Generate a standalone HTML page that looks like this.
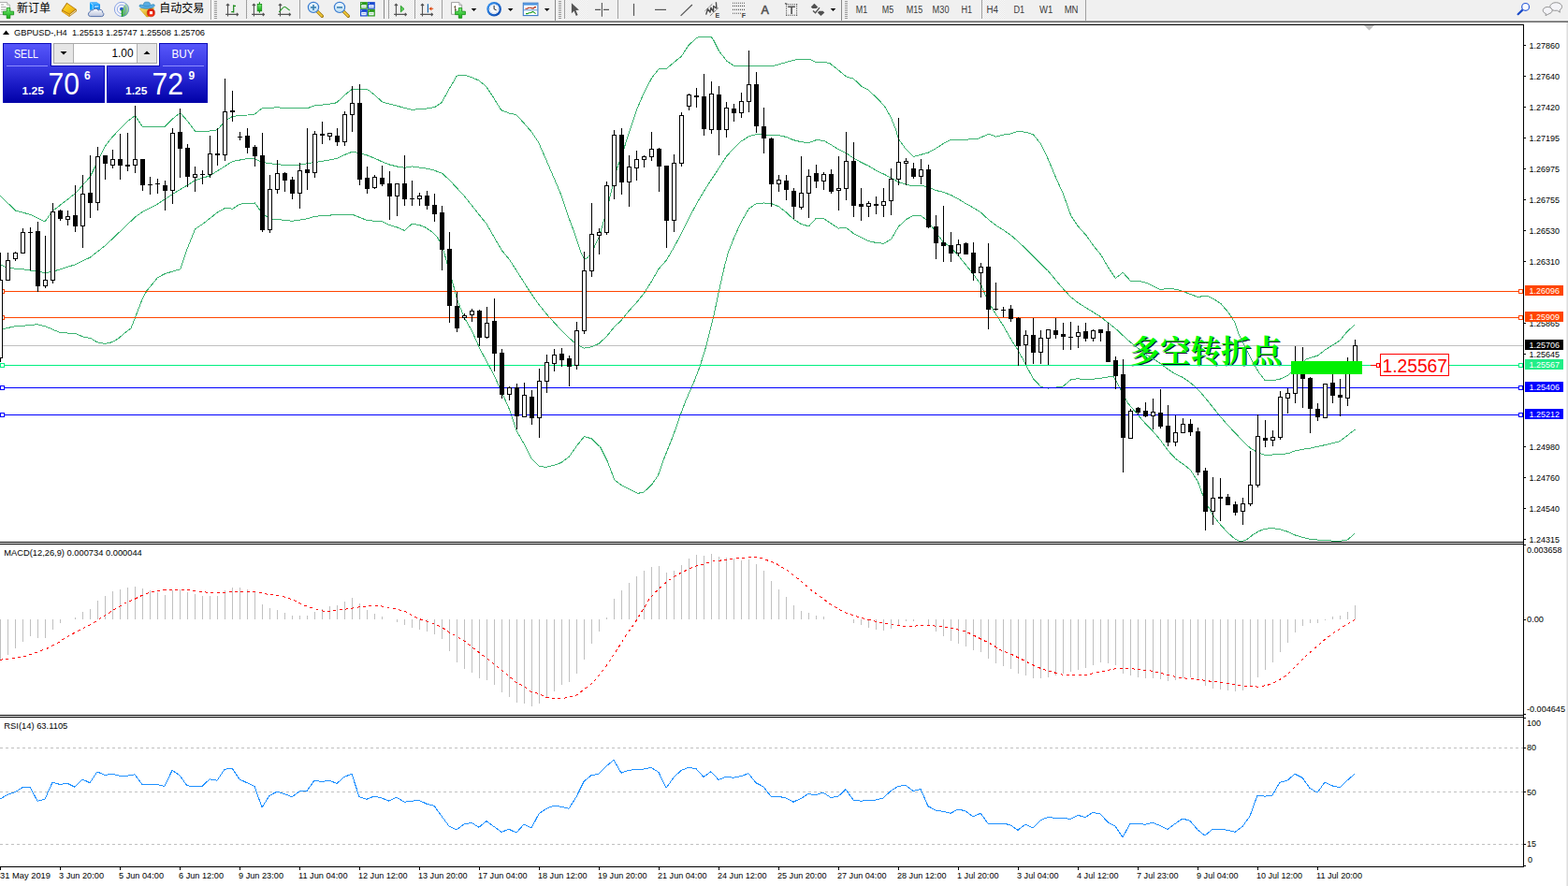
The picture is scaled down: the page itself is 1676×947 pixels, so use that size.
<!DOCTYPE html>
<html><head><meta charset="utf-8"><title>GBPUSD H4</title>
<style>
html,body{margin:0;padding:0;background:#fff;}
body{width:1676px;height:947px;position:relative;overflow:hidden;font-family:"Liberation Sans", sans-serif;}
#tb{position:absolute;left:0;top:0;width:1676px;height:24px;
 background:linear-gradient(to bottom,#f0f0f0 0,#f0f0f0 21px,#f6f6f6 21px,#f6f6f6 22px,#a0a0a0 22px,#a0a0a0 23px,#696969 23px,#696969 24px);}
</style></head><body>
<div id="tb"></div>
<svg width="1676" height="947" viewBox="0 0 1676 947" style="position:absolute;left:0;top:0"><g shape-rendering="crispEdges">
<rect x="0" y="26" width="1629" height="1" fill="#000"/>
<rect x="1628" y="26" width="1" height="901" fill="#000"/>
<rect x="0" y="579" width="1629" height="1" fill="#000"/>
<rect x="0" y="581" width="1629" height="1" fill="#000"/>
<rect x="0" y="764" width="1629" height="1" fill="#000"/>
<rect x="0" y="766" width="1629" height="1" fill="#000"/>
<rect x="0" y="926" width="1629" height="1" fill="#000"/>
<rect x="1674" y="24" width="1" height="923" fill="#ececec"/>
<rect x="1675" y="24" width="1" height="923" fill="#dedede"/>
<rect x="1629" y="48" width="2" height="1" fill="#000"/>
<rect x="1629" y="81" width="2" height="1" fill="#000"/>
<rect x="1629" y="114" width="2" height="1" fill="#000"/>
<rect x="1629" y="147" width="2" height="1" fill="#000"/>
<rect x="1629" y="180" width="2" height="1" fill="#000"/>
<rect x="1629" y="213" width="2" height="1" fill="#000"/>
<rect x="1629" y="246" width="2" height="1" fill="#000"/>
<rect x="1629" y="279" width="2" height="1" fill="#000"/>
<rect x="1629" y="345" width="2" height="1" fill="#000"/>
<rect x="1629" y="378" width="2" height="1" fill="#000"/>
<rect x="1629" y="477" width="2" height="1" fill="#000"/>
<rect x="1629" y="510" width="2" height="1" fill="#000"/>
<rect x="1629" y="543" width="2" height="1" fill="#000"/>
<rect x="1629" y="576" width="2" height="1" fill="#000"/>
<rect x="1629" y="582" width="2" height="1" fill="#000"/>
<rect x="1629" y="662" width="2" height="1" fill="#000"/>
<rect x="1629" y="763" width="2" height="1" fill="#000"/>
<rect x="1629" y="767" width="2" height="1" fill="#000"/>
<rect x="1629" y="799" width="2" height="1" fill="#000"/>
<rect x="1629" y="846" width="2" height="1" fill="#000"/>
<rect x="1629" y="902" width="2" height="1" fill="#000"/>
<rect x="1629" y="925" width="2" height="1" fill="#000"/>
<rect x="0" y="926" width="1" height="4" fill="#000"/>
<rect x="64" y="926" width="1" height="4" fill="#000"/>
<rect x="128" y="926" width="1" height="4" fill="#000"/>
<rect x="192" y="926" width="1" height="4" fill="#000"/>
<rect x="256" y="926" width="1" height="4" fill="#000"/>
<rect x="320" y="926" width="1" height="4" fill="#000"/>
<rect x="384" y="926" width="1" height="4" fill="#000"/>
<rect x="448" y="926" width="1" height="4" fill="#000"/>
<rect x="512" y="926" width="1" height="4" fill="#000"/>
<rect x="576" y="926" width="1" height="4" fill="#000"/>
<rect x="640" y="926" width="1" height="4" fill="#000"/>
<rect x="704" y="926" width="1" height="4" fill="#000"/>
<rect x="768" y="926" width="1" height="4" fill="#000"/>
<rect x="832" y="926" width="1" height="4" fill="#000"/>
<rect x="896" y="926" width="1" height="4" fill="#000"/>
<rect x="960" y="926" width="1" height="4" fill="#000"/>
<rect x="1024" y="926" width="1" height="4" fill="#000"/>
<rect x="1088" y="926" width="1" height="4" fill="#000"/>
<rect x="1152" y="926" width="1" height="4" fill="#000"/>
<rect x="1216" y="926" width="1" height="4" fill="#000"/>
<rect x="1280" y="926" width="1" height="4" fill="#000"/>
<rect x="1344" y="926" width="1" height="4" fill="#000"/>
<rect x="1408" y="926" width="1" height="4" fill="#000"/>
<line x1="0" y1="799.5" x2="1628" y2="799.5" stroke="#c0c0c0" stroke-width="1" stroke-dasharray="3,3"/>
<line x1="0" y1="846.5" x2="1628" y2="846.5" stroke="#c0c0c0" stroke-width="1" stroke-dasharray="3,3"/>
<line x1="0" y1="902.5" x2="1628" y2="902.5" stroke="#c0c0c0" stroke-width="1" stroke-dasharray="3,3"/>
<rect x="0" y="662" width="1" height="43" fill="#c0c0c0"/>
<rect x="8" y="662" width="1" height="38" fill="#c0c0c0"/>
<rect x="16" y="662" width="1" height="31" fill="#c0c0c0"/>
<rect x="24" y="662" width="1" height="24" fill="#c0c0c0"/>
<rect x="32" y="662" width="1" height="18" fill="#c0c0c0"/>
<rect x="40" y="662" width="1" height="20" fill="#c0c0c0"/>
<rect x="48" y="662" width="1" height="20" fill="#c0c0c0"/>
<rect x="56" y="662" width="1" height="11" fill="#c0c0c0"/>
<rect x="64" y="662" width="1" height="4" fill="#c0c0c0"/>
<rect x="80" y="660" width="1" height="2" fill="#c0c0c0"/>
<rect x="88" y="654" width="1" height="8" fill="#c0c0c0"/>
<rect x="96" y="651" width="1" height="11" fill="#c0c0c0"/>
<rect x="104" y="642" width="1" height="20" fill="#c0c0c0"/>
<rect x="112" y="637" width="1" height="25" fill="#c0c0c0"/>
<rect x="120" y="632" width="1" height="30" fill="#c0c0c0"/>
<rect x="128" y="630" width="1" height="32" fill="#c0c0c0"/>
<rect x="136" y="628" width="1" height="34" fill="#c0c0c0"/>
<rect x="144" y="627" width="1" height="35" fill="#c0c0c0"/>
<rect x="152" y="629" width="1" height="33" fill="#c0c0c0"/>
<rect x="160" y="631" width="1" height="31" fill="#c0c0c0"/>
<rect x="168" y="633" width="1" height="29" fill="#c0c0c0"/>
<rect x="176" y="636" width="1" height="26" fill="#c0c0c0"/>
<rect x="184" y="631" width="1" height="31" fill="#c0c0c0"/>
<rect x="192" y="630" width="1" height="32" fill="#c0c0c0"/>
<rect x="200" y="633" width="1" height="29" fill="#c0c0c0"/>
<rect x="208" y="635" width="1" height="27" fill="#c0c0c0"/>
<rect x="216" y="637" width="1" height="25" fill="#c0c0c0"/>
<rect x="224" y="637" width="1" height="25" fill="#c0c0c0"/>
<rect x="232" y="637" width="1" height="25" fill="#c0c0c0"/>
<rect x="240" y="631" width="1" height="31" fill="#c0c0c0"/>
<rect x="248" y="628" width="1" height="34" fill="#c0c0c0"/>
<rect x="256" y="628" width="1" height="34" fill="#c0c0c0"/>
<rect x="264" y="630" width="1" height="32" fill="#c0c0c0"/>
<rect x="272" y="633" width="1" height="29" fill="#c0c0c0"/>
<rect x="280" y="646" width="1" height="16" fill="#c0c0c0"/>
<rect x="288" y="650" width="1" height="12" fill="#c0c0c0"/>
<rect x="296" y="652" width="1" height="10" fill="#c0c0c0"/>
<rect x="304" y="655" width="1" height="7" fill="#c0c0c0"/>
<rect x="312" y="658" width="1" height="4" fill="#c0c0c0"/>
<rect x="320" y="658" width="1" height="4" fill="#c0c0c0"/>
<rect x="328" y="658" width="1" height="4" fill="#c0c0c0"/>
<rect x="336" y="654" width="1" height="8" fill="#c0c0c0"/>
<rect x="344" y="651" width="1" height="11" fill="#c0c0c0"/>
<rect x="352" y="648" width="1" height="14" fill="#c0c0c0"/>
<rect x="360" y="647" width="1" height="15" fill="#c0c0c0"/>
<rect x="368" y="643" width="1" height="19" fill="#c0c0c0"/>
<rect x="376" y="639" width="1" height="23" fill="#c0c0c0"/>
<rect x="384" y="645" width="1" height="17" fill="#c0c0c0"/>
<rect x="392" y="652" width="1" height="10" fill="#c0c0c0"/>
<rect x="400" y="656" width="1" height="6" fill="#c0c0c0"/>
<rect x="408" y="659" width="1" height="3" fill="#c0c0c0"/>
<rect x="424" y="662" width="1" height="3" fill="#c0c0c0"/>
<rect x="432" y="662" width="1" height="6" fill="#c0c0c0"/>
<rect x="440" y="662" width="1" height="9" fill="#c0c0c0"/>
<rect x="448" y="662" width="1" height="11" fill="#c0c0c0"/>
<rect x="456" y="662" width="1" height="13" fill="#c0c0c0"/>
<rect x="464" y="662" width="1" height="16" fill="#c0c0c0"/>
<rect x="472" y="662" width="1" height="21" fill="#c0c0c0"/>
<rect x="480" y="662" width="1" height="34" fill="#c0c0c0"/>
<rect x="488" y="662" width="1" height="46" fill="#c0c0c0"/>
<rect x="496" y="662" width="1" height="53" fill="#c0c0c0"/>
<rect x="504" y="662" width="1" height="57" fill="#c0c0c0"/>
<rect x="512" y="662" width="1" height="63" fill="#c0c0c0"/>
<rect x="520" y="662" width="1" height="65" fill="#c0c0c0"/>
<rect x="528" y="662" width="1" height="70" fill="#c0c0c0"/>
<rect x="536" y="662" width="1" height="78" fill="#c0c0c0"/>
<rect x="544" y="662" width="1" height="83" fill="#c0c0c0"/>
<rect x="552" y="662" width="1" height="89" fill="#c0c0c0"/>
<rect x="560" y="662" width="1" height="90" fill="#c0c0c0"/>
<rect x="568" y="662" width="1" height="93" fill="#c0c0c0"/>
<rect x="576" y="662" width="1" height="90" fill="#c0c0c0"/>
<rect x="584" y="662" width="1" height="83" fill="#c0c0c0"/>
<rect x="592" y="662" width="1" height="77" fill="#c0c0c0"/>
<rect x="600" y="662" width="1" height="70" fill="#c0c0c0"/>
<rect x="608" y="662" width="1" height="67" fill="#c0c0c0"/>
<rect x="616" y="662" width="1" height="58" fill="#c0c0c0"/>
<rect x="624" y="662" width="1" height="43" fill="#c0c0c0"/>
<rect x="632" y="662" width="1" height="26" fill="#c0c0c0"/>
<rect x="640" y="662" width="1" height="13" fill="#c0c0c0"/>
<rect x="648" y="660" width="1" height="2" fill="#c0c0c0"/>
<rect x="656" y="640" width="1" height="22" fill="#c0c0c0"/>
<rect x="664" y="631" width="1" height="31" fill="#c0c0c0"/>
<rect x="672" y="623" width="1" height="39" fill="#c0c0c0"/>
<rect x="680" y="616" width="1" height="46" fill="#c0c0c0"/>
<rect x="688" y="610" width="1" height="52" fill="#c0c0c0"/>
<rect x="696" y="606" width="1" height="56" fill="#c0c0c0"/>
<rect x="704" y="605" width="1" height="57" fill="#c0c0c0"/>
<rect x="712" y="612" width="1" height="50" fill="#c0c0c0"/>
<rect x="720" y="610" width="1" height="52" fill="#c0c0c0"/>
<rect x="728" y="604" width="1" height="58" fill="#c0c0c0"/>
<rect x="736" y="597" width="1" height="65" fill="#c0c0c0"/>
<rect x="744" y="593" width="1" height="69" fill="#c0c0c0"/>
<rect x="752" y="594" width="1" height="68" fill="#c0c0c0"/>
<rect x="760" y="592" width="1" height="70" fill="#c0c0c0"/>
<rect x="768" y="595" width="1" height="67" fill="#c0c0c0"/>
<rect x="776" y="596" width="1" height="66" fill="#c0c0c0"/>
<rect x="784" y="597" width="1" height="65" fill="#c0c0c0"/>
<rect x="792" y="599" width="1" height="63" fill="#c0c0c0"/>
<rect x="800" y="598" width="1" height="64" fill="#c0c0c0"/>
<rect x="808" y="603" width="1" height="59" fill="#c0c0c0"/>
<rect x="816" y="610" width="1" height="52" fill="#c0c0c0"/>
<rect x="824" y="621" width="1" height="41" fill="#c0c0c0"/>
<rect x="832" y="630" width="1" height="32" fill="#c0c0c0"/>
<rect x="840" y="638" width="1" height="24" fill="#c0c0c0"/>
<rect x="848" y="647" width="1" height="15" fill="#c0c0c0"/>
<rect x="856" y="653" width="1" height="9" fill="#c0c0c0"/>
<rect x="864" y="655" width="1" height="7" fill="#c0c0c0"/>
<rect x="872" y="658" width="1" height="4" fill="#c0c0c0"/>
<rect x="880" y="659" width="1" height="3" fill="#c0c0c0"/>
<rect x="912" y="662" width="1" height="4" fill="#c0c0c0"/>
<rect x="920" y="662" width="1" height="6" fill="#c0c0c0"/>
<rect x="928" y="662" width="1" height="9" fill="#c0c0c0"/>
<rect x="936" y="662" width="1" height="11" fill="#c0c0c0"/>
<rect x="944" y="662" width="1" height="12" fill="#c0c0c0"/>
<rect x="952" y="662" width="1" height="10" fill="#c0c0c0"/>
<rect x="960" y="662" width="1" height="6" fill="#c0c0c0"/>
<rect x="968" y="662" width="1" height="2" fill="#c0c0c0"/>
<rect x="976" y="662" width="1" height="2" fill="#c0c0c0"/>
<rect x="992" y="662" width="1" height="6" fill="#c0c0c0"/>
<rect x="1000" y="662" width="1" height="13" fill="#c0c0c0"/>
<rect x="1008" y="662" width="1" height="18" fill="#c0c0c0"/>
<rect x="1016" y="662" width="1" height="23" fill="#c0c0c0"/>
<rect x="1024" y="662" width="1" height="26" fill="#c0c0c0"/>
<rect x="1032" y="662" width="1" height="29" fill="#c0c0c0"/>
<rect x="1040" y="662" width="1" height="33" fill="#c0c0c0"/>
<rect x="1048" y="662" width="1" height="35" fill="#c0c0c0"/>
<rect x="1056" y="662" width="1" height="42" fill="#c0c0c0"/>
<rect x="1064" y="662" width="1" height="47" fill="#c0c0c0"/>
<rect x="1072" y="662" width="1" height="50" fill="#c0c0c0"/>
<rect x="1080" y="662" width="1" height="53" fill="#c0c0c0"/>
<rect x="1088" y="662" width="1" height="58" fill="#c0c0c0"/>
<rect x="1096" y="662" width="1" height="60" fill="#c0c0c0"/>
<rect x="1104" y="662" width="1" height="63" fill="#c0c0c0"/>
<rect x="1112" y="662" width="1" height="63" fill="#c0c0c0"/>
<rect x="1120" y="662" width="1" height="62" fill="#c0c0c0"/>
<rect x="1128" y="662" width="1" height="60" fill="#c0c0c0"/>
<rect x="1136" y="662" width="1" height="58" fill="#c0c0c0"/>
<rect x="1144" y="662" width="1" height="56" fill="#c0c0c0"/>
<rect x="1152" y="662" width="1" height="54" fill="#c0c0c0"/>
<rect x="1160" y="662" width="1" height="52" fill="#c0c0c0"/>
<rect x="1168" y="662" width="1" height="49" fill="#c0c0c0"/>
<rect x="1176" y="662" width="1" height="46" fill="#c0c0c0"/>
<rect x="1184" y="662" width="1" height="47" fill="#c0c0c0"/>
<rect x="1192" y="662" width="1" height="49" fill="#c0c0c0"/>
<rect x="1200" y="662" width="1" height="58" fill="#c0c0c0"/>
<rect x="1208" y="662" width="1" height="60" fill="#c0c0c0"/>
<rect x="1216" y="662" width="1" height="62" fill="#c0c0c0"/>
<rect x="1224" y="662" width="1" height="63" fill="#c0c0c0"/>
<rect x="1232" y="662" width="1" height="63" fill="#c0c0c0"/>
<rect x="1240" y="662" width="1" height="64" fill="#c0c0c0"/>
<rect x="1248" y="662" width="1" height="66" fill="#c0c0c0"/>
<rect x="1256" y="662" width="1" height="65" fill="#c0c0c0"/>
<rect x="1264" y="662" width="1" height="63" fill="#c0c0c0"/>
<rect x="1272" y="662" width="1" height="62" fill="#c0c0c0"/>
<rect x="1280" y="662" width="1" height="65" fill="#c0c0c0"/>
<rect x="1288" y="662" width="1" height="71" fill="#c0c0c0"/>
<rect x="1296" y="662" width="1" height="74" fill="#c0c0c0"/>
<rect x="1304" y="662" width="1" height="75" fill="#c0c0c0"/>
<rect x="1312" y="662" width="1" height="76" fill="#c0c0c0"/>
<rect x="1320" y="662" width="1" height="77" fill="#c0c0c0"/>
<rect x="1328" y="662" width="1" height="76" fill="#c0c0c0"/>
<rect x="1336" y="662" width="1" height="72" fill="#c0c0c0"/>
<rect x="1344" y="662" width="1" height="62" fill="#c0c0c0"/>
<rect x="1352" y="662" width="1" height="54" fill="#c0c0c0"/>
<rect x="1360" y="662" width="1" height="46" fill="#c0c0c0"/>
<rect x="1368" y="662" width="1" height="35" fill="#c0c0c0"/>
<rect x="1376" y="662" width="1" height="25" fill="#c0c0c0"/>
<rect x="1384" y="662" width="1" height="14" fill="#c0c0c0"/>
<rect x="1392" y="662" width="1" height="7" fill="#c0c0c0"/>
<rect x="1400" y="662" width="1" height="4" fill="#c0c0c0"/>
<rect x="1408" y="662" width="1" height="4" fill="#c0c0c0"/>
<rect x="1416" y="662" width="1" height="1" fill="#c0c0c0"/>
<rect x="1424" y="659" width="1" height="3" fill="#c0c0c0"/>
<rect x="1432" y="658" width="1" height="4" fill="#c0c0c0"/>
<rect x="1440" y="654" width="1" height="8" fill="#c0c0c0"/>
<rect x="1448" y="647" width="1" height="15" fill="#c0c0c0"/>
<rect x="0" y="369" width="1628" height="1" fill="#c0c0c0"/>
</g>
<text x="1208.6" y="387.6" font-family='"Liberation Serif", "Noto Serif CJK SC", serif' font-size="32.5" font-weight="bold" fill="#0c1030" textLength="162.5" lengthAdjust="spacingAndGlyphs">多空转折点</text>
<text x="1207.5" y="386.5" font-family='"Liberation Serif", "Noto Serif CJK SC", serif' font-size="32.5" font-weight="bold" fill="#00ff00" textLength="162.5" lengthAdjust="spacingAndGlyphs">多空转折点</text>
<polyline points="0.0,209.0 16.5,225.0 33.0,229.5 48.0,237.0 56.0,225.7 80.6,206.7 96.3,189.0 104.4,172.5 112.5,156.0 120.4,146.0 136.6,129.4 144.5,123.6 152.0,135.0 176.6,135.0 184.5,127.0 192.6,120.5 200.5,129.4 208.6,140.3 224.5,140.0 232.4,138.8 240.5,129.4 248.6,124.3 264.6,123.0 272.4,122.0 280.5,115.4 296.4,114.9 312.4,115.7 328.6,115.7 336.5,112.9 352.5,111.2 360.0,109.7 367.5,102.3 376.4,95.3 392.4,95.3 400.0,101.0 408.6,109.0 424.8,113.3 439.7,117.2 452.2,116.7 464.7,114.6 472.1,109.6 479.6,96.0 488.3,81.1 495.8,80.1 503.3,82.3 512.0,86.1 519.5,92.3 527.0,103.5 535.7,117.7 544.4,121.0 551.9,122.7 559.4,130.9 568.1,140.9 575.6,152.1 584.3,172.0 591.8,189.5 599.2,206.9 606.7,229.4 614.2,249.3 620.5,268.7 624.5,276.7 628.0,275.6 632.4,270.0 640.4,253.0 648.4,226.0 653.4,204.5 659.6,179.6 667.1,158.4 672.6,141.0 680.5,117.3 688.5,98.6 696.5,83.6 704.2,73.6 712.5,73.3 720.0,66.9 728.4,60.2 735.9,48.6 744.3,40.7 748.4,39.0 760.1,39.0 763.5,44.4 768.5,54.4 776.8,65.3 784.4,70.3 800.2,70.6 827.0,70.3 842.0,66.1 852.0,63.6 865.4,63.3 872.9,66.9 879.6,66.1 887.1,67.8 895.5,74.4 904.6,82.0 912.2,84.0 920.5,92.0 928.0,96.2 937.2,104.5 945.6,113.7 952.5,126.0 957.3,138.0 960.5,148.6 968.5,159.8 976.4,167.3 984.4,165.3 992.4,163.1 1000.4,158.6 1008.3,153.6 1016.3,149.1 1024.3,149.9 1032.5,149.1 1044.5,148.6 1052.0,145.4 1057.0,143.1 1064.4,146.1 1072.4,144.1 1080.4,142.9 1088.3,140.4 1096.3,141.2 1104.3,143.6 1112.3,153.6 1120.2,169.8 1128.5,189.7 1136.4,207.2 1141.0,220.0 1144.8,230.6 1151.6,241.1 1161.1,251.7 1168.5,262.2 1177.0,272.8 1184.4,285.5 1192.3,297.6 1200.2,291.3 1208.6,300.5 1218.1,300.5 1225.5,302.4 1232.9,306.1 1240.4,309.5 1250.4,308.0 1260.4,310.0 1270.3,313.7 1280.3,317.4 1290.3,316.2 1297.7,319.9 1305.2,324.9 1312.7,333.6 1320.2,345.0 1323.7,356.5 1331.2,371.4 1338.6,386.4 1346.1,398.8 1352.3,406.8 1360.3,406.8 1368.3,405.1 1376.5,401.3 1381.0,397.6 1396.0,384.0 1408.4,380.1 1416.4,373.9 1424.4,368.9 1432.3,363.9 1440.3,354.0 1448.3,347.0" fill="none" stroke="#3cb371" stroke-width="1" shape-rendering="crispEdges"/>
<polyline points="0.0,282.7 8.4,286.5 24.6,287.8 40.5,290.3 48.1,291.6 56.3,290.3 64.4,287.8 80.6,282.7 96.3,275.1 112.5,262.5 128.5,247.3 144.5,232.0 152.6,226.2 168.5,218.1 184.5,207.5 200.5,197.8 208.6,192.8 224.5,187.7 240.5,177.6 248.6,172.5 264.6,169.5 272.4,170.0 280.5,173.5 288.4,174.7 304.4,176.5 320.3,176.0 336.5,173.5 352.5,171.0 360.5,169.2 368.4,165.5 376.4,162.2 384.4,163.5 392.4,166.0 400.6,169.2 408.6,173.0 416.5,176.0 424.5,178.0 432.5,179.2 440.5,178.0 448.4,179.0 456.4,180.2 464.4,182.2 472.4,185.2 480.3,192.2 488.3,200.9 496.3,209.6 504.3,219.6 512.2,229.6 520.2,239.5 528.7,254.5 536.6,267.9 544.5,277.4 552.4,289.8 560.4,302.3 568.4,314.8 576.4,326.0 584.3,335.9 592.3,344.7 600.3,353.4 608.5,361.4 616.5,368.3 624.5,372.1 632.4,370.8 640.4,367.1 648.4,359.6 656.4,349.7 664.3,342.2 672.3,332.2 680.3,323.5 688.3,313.5 696.2,301.1 704.2,287.3 712.4,278.0 720.4,264.3 728.4,249.4 736.4,233.2 744.3,218.2 752.3,204.5 760.3,192.0 768.5,179.6 776.5,167.1 784.5,158.4 792.4,150.9 800.4,145.9 808.4,143.5 816.4,144.2 824.3,144.7 832.3,144.7 840.3,146.4 848.3,149.7 856.2,151.7 864.5,152.7 872.4,149.7 880.4,150.2 888.5,154.9 896.4,159.8 904.4,163.6 912.4,169.1 920.4,173.5 928.3,177.3 936.6,182.3 944.5,186.0 952.5,190.2 960.5,194.7 968.5,197.2 976.4,199.0 984.4,198.0 992.4,200.2 1000.4,203.5 1008.3,205.4 1016.3,208.4 1024.3,212.7 1032.5,217.7 1040.5,222.1 1048.5,227.1 1056.4,234.6 1064.4,240.8 1072.4,245.8 1080.4,251.3 1088.3,258.3 1096.3,265.8 1104.3,273.7 1112.3,282.0 1120.2,289.4 1128.5,299.4 1136.4,308.7 1144.5,317.4 1152.4,323.7 1160.4,328.7 1168.4,333.6 1176.4,338.6 1184.3,344.9 1192.3,351.1 1200.3,358.6 1208.5,366.0 1216.5,372.3 1224.5,378.5 1232.4,383.5 1240.4,388.5 1248.4,394.7 1256.4,399.9 1264.3,403.4 1272.3,409.0 1280.4,416.1 1288.4,425.4 1296.4,435.4 1304.5,445.4 1312.5,454.7 1320.4,462.8 1328.4,471.5 1336.4,479.0 1344.4,483.6 1352.3,486.5 1360.3,486.0 1368.3,485.5 1376.5,484.8 1384.5,481.8 1392.5,480.3 1400.4,479.1 1408.4,477.3 1416.4,475.6 1424.4,473.6 1432.3,471.6 1440.3,465.4 1448.3,459.1" fill="none" stroke="#3cb371" stroke-width="1" shape-rendering="crispEdges"/>
<polyline points="0.0,353.0 6.0,351.0 15.0,349.0 27.0,348.0 40.0,346.7 49.0,349.0 57.0,352.4 63.0,355.0 72.0,356.0 81.0,356.7 89.0,360.0 97.0,361.5 103.5,365.7 112.0,367.4 120.0,365.7 127.0,361.5 133.0,356.0 140.0,351.0 152.0,320.0 157.0,310.6 168.5,296.7 176.6,292.4 192.6,287.8 200.5,265.0 208.6,244.7 216.4,239.7 232.4,227.0 240.5,222.4 248.6,223.2 256.5,218.1 272.4,217.0 280.5,228.3 288.4,233.8 296.4,234.5 312.4,236.3 328.6,233.8 336.5,231.3 352.5,230.1 360.0,229.4 376.4,229.2 392.4,235.6 408.6,236.8 416.6,240.6 424.8,243.1 432.3,246.4 439.7,239.8 447.2,240.1 454.7,243.1 462.2,248.1 467.2,253.0 472.0,262.0 476.0,274.4 480.3,289.4 483.8,301.8 488.3,319.3 496.4,339.7 504.3,353.4 512.6,372.1 520.5,387.0 527.6,400.0 536.2,419.0 544.7,438.0 552.3,460.8 559.9,474.1 567.5,489.3 576.1,498.3 583.7,499.4 592.2,497.3 599.8,494.5 608.4,488.0 616.9,476.0 624.5,466.5 632.1,468.8 641.7,477.9 649.3,493.1 656.9,513.1 664.5,518.8 672.1,522.6 681.6,527.4 688.2,526.0 696.8,517.8 703.4,508.3 710.1,489.3 717.7,470.3 723.4,455.1 727.2,443.7 732.9,428.5 739.5,413.3 741.1,410.0 748.5,390.5 755.1,369.0 762.5,339.5 768.4,311.4 774.4,284.8 778.0,271.0 784.5,254.3 792.4,236.9 800.4,223.2 808.4,217.5 816.4,217.0 824.3,217.5 832.3,220.7 840.3,226.9 848.3,234.4 856.2,239.4 864.5,241.9 872.4,233.2 880.4,233.7 888.5,239.1 896.4,244.1 904.4,243.3 912.4,249.6 920.4,253.8 928.3,257.5 936.6,259.5 944.5,260.3 952.5,255.8 960.5,242.1 968.5,234.6 976.4,230.4 984.4,230.4 992.4,237.1 1000.4,248.3 1008.3,258.8 1016.3,264.5 1024.3,273.2 1032.5,283.2 1040.5,293.2 1048.5,304.4 1056.2,322.0 1064.5,336.0 1072.4,348.0 1080.4,362.3 1088.4,374.8 1096.4,389.7 1104.3,404.7 1112.6,413.4 1120.5,415.1 1128.5,414.1 1136.5,412.9 1144.5,405.9 1152.4,404.7 1160.4,405.9 1168.4,405.2 1176.4,404.2 1184.3,402.9 1190.6,402.9 1194.3,409.7 1200.3,422.1 1205.5,430.8 1213.0,439.6 1220.5,448.3 1224.0,452.4 1232.5,461.1 1240.4,470.5 1248.4,481.5 1256.4,490.2 1264.4,496.0 1272.3,502.0 1280.5,515.0 1285.0,527.5 1288.5,536.0 1296.5,550.8 1304.5,560.8 1312.5,569.5 1320.4,576.5 1326.2,578.8 1332.4,577.0 1338.6,572.0 1346.1,567.5 1352.3,565.3 1360.3,564.5 1368.3,565.8 1376.5,568.3 1384.5,572.0 1392.5,574.5 1400.4,576.3 1416.4,577.8 1432.3,578.3 1440.3,577.0 1448.3,570.0" fill="none" stroke="#3cb371" stroke-width="1" shape-rendering="crispEdges"/>
<g shape-rendering="crispEdges">
<rect x="0" y="311" width="1628" height="1" fill="#ff4500"/>
<rect x="0.5" y="309.5" width="4" height="4" fill="#fff" stroke="#ff4500" stroke-width="1"/>
<rect x="1623.5" y="309.5" width="4" height="4" fill="#fff" stroke="#ff4500" stroke-width="1"/>
<rect x="0" y="339" width="1628" height="1" fill="#ff4500"/>
<rect x="0.5" y="337.5" width="4" height="4" fill="#fff" stroke="#ff4500" stroke-width="1"/>
<rect x="1623.5" y="337.5" width="4" height="4" fill="#fff" stroke="#ff4500" stroke-width="1"/>
<rect x="0" y="390" width="1628" height="1" fill="#00f080"/>
<rect x="0.5" y="388.5" width="4" height="4" fill="#fff" stroke="#00f080" stroke-width="1"/>
<rect x="1623.5" y="388.5" width="4" height="4" fill="#fff" stroke="#00f080" stroke-width="1"/>
<rect x="0" y="414" width="1628" height="1" fill="#0000ff"/>
<rect x="0.5" y="412.5" width="4" height="4" fill="#fff" stroke="#0000ff" stroke-width="1"/>
<rect x="1623.5" y="412.5" width="4" height="4" fill="#fff" stroke="#0000ff" stroke-width="1"/>
<rect x="0" y="443" width="1628" height="1" fill="#0000ff"/>
<rect x="0.5" y="441.5" width="4" height="4" fill="#fff" stroke="#0000ff" stroke-width="1"/>
<rect x="1623.5" y="441.5" width="4" height="4" fill="#fff" stroke="#0000ff" stroke-width="1"/>
<rect x="0" y="270" width="1" height="117" fill="#000"/>
<rect x="-2" y="299" width="5" height="84" fill="#000"/>
<rect x="-1" y="300" width="3" height="82" fill="#fff"/>
<rect x="8" y="270" width="1" height="30" fill="#000"/>
<rect x="6" y="278" width="5" height="22" fill="#000"/>
<rect x="7" y="279" width="3" height="20" fill="#fff"/>
<rect x="16" y="269" width="1" height="10" fill="#000"/>
<rect x="14" y="270" width="5" height="7" fill="#000"/>
<rect x="15" y="271" width="3" height="5" fill="#fff"/>
<rect x="24" y="244" width="1" height="27" fill="#000"/>
<rect x="22" y="248" width="5" height="23" fill="#000"/>
<rect x="23" y="249" width="3" height="21" fill="#fff"/>
<rect x="32" y="243" width="1" height="46" fill="#000"/>
<rect x="30" y="248" width="5" height="1" fill="#000"/>
<rect x="40" y="237" width="1" height="75" fill="#000"/>
<rect x="38" y="247" width="5" height="59" fill="#000"/>
<rect x="48" y="252" width="1" height="56" fill="#000"/>
<rect x="46" y="299" width="5" height="7" fill="#000"/>
<rect x="47" y="300" width="3" height="5" fill="#fff"/>
<rect x="56" y="217" width="1" height="86" fill="#000"/>
<rect x="54" y="226" width="5" height="74" fill="#000"/>
<rect x="55" y="227" width="3" height="72" fill="#fff"/>
<rect x="64" y="224" width="1" height="12" fill="#000"/>
<rect x="62" y="225" width="5" height="9" fill="#000"/>
<rect x="72" y="225" width="1" height="16" fill="#000"/>
<rect x="70" y="231" width="5" height="4" fill="#000"/>
<rect x="71" y="232" width="3" height="2" fill="#fff"/>
<rect x="80" y="198" width="1" height="50" fill="#000"/>
<rect x="78" y="230" width="5" height="12" fill="#000"/>
<rect x="88" y="187" width="1" height="78" fill="#000"/>
<rect x="86" y="207" width="5" height="35" fill="#000"/>
<rect x="87" y="208" width="3" height="33" fill="#fff"/>
<rect x="96" y="166" width="1" height="67" fill="#000"/>
<rect x="94" y="206" width="5" height="11" fill="#000"/>
<rect x="104" y="157" width="1" height="68" fill="#000"/>
<rect x="102" y="167" width="5" height="50" fill="#000"/>
<rect x="103" y="168" width="3" height="48" fill="#fff"/>
<rect x="112" y="166" width="1" height="26" fill="#000"/>
<rect x="110" y="166" width="5" height="9" fill="#000"/>
<rect x="120" y="160" width="1" height="20" fill="#000"/>
<rect x="118" y="170" width="5" height="7" fill="#000"/>
<rect x="119" y="171" width="3" height="5" fill="#fff"/>
<rect x="128" y="143" width="1" height="49" fill="#000"/>
<rect x="126" y="170" width="5" height="7" fill="#000"/>
<rect x="136" y="142" width="1" height="41" fill="#000"/>
<rect x="134" y="176" width="5" height="2" fill="#000"/>
<rect x="144" y="113" width="1" height="72" fill="#000"/>
<rect x="142" y="170" width="5" height="7" fill="#000"/>
<rect x="143" y="171" width="3" height="5" fill="#fff"/>
<rect x="152" y="170" width="1" height="34" fill="#000"/>
<rect x="150" y="170" width="5" height="28" fill="#000"/>
<rect x="160" y="189" width="1" height="19" fill="#000"/>
<rect x="158" y="197" width="5" height="1" fill="#000"/>
<rect x="168" y="191" width="1" height="16" fill="#000"/>
<rect x="166" y="196" width="5" height="1" fill="#000"/>
<rect x="176" y="193" width="1" height="32" fill="#000"/>
<rect x="174" y="198" width="5" height="6" fill="#000"/>
<rect x="184" y="137" width="1" height="81" fill="#000"/>
<rect x="182" y="142" width="5" height="62" fill="#000"/>
<rect x="183" y="143" width="3" height="60" fill="#fff"/>
<rect x="192" y="116" width="1" height="74" fill="#000"/>
<rect x="190" y="141" width="5" height="18" fill="#000"/>
<rect x="200" y="154" width="1" height="46" fill="#000"/>
<rect x="198" y="158" width="5" height="31" fill="#000"/>
<rect x="208" y="178" width="1" height="27" fill="#000"/>
<rect x="206" y="186" width="5" height="4" fill="#000"/>
<rect x="207" y="187" width="3" height="2" fill="#fff"/>
<rect x="216" y="182" width="1" height="15" fill="#000"/>
<rect x="214" y="186" width="5" height="1" fill="#000"/>
<rect x="224" y="145" width="1" height="45" fill="#000"/>
<rect x="222" y="164" width="5" height="23" fill="#000"/>
<rect x="223" y="165" width="3" height="21" fill="#fff"/>
<rect x="232" y="137" width="1" height="40" fill="#000"/>
<rect x="230" y="164" width="5" height="2" fill="#000"/>
<rect x="240" y="84" width="1" height="88" fill="#000"/>
<rect x="238" y="119" width="5" height="47" fill="#000"/>
<rect x="239" y="120" width="3" height="45" fill="#fff"/>
<rect x="248" y="97" width="1" height="33" fill="#000"/>
<rect x="246" y="118" width="5" height="2" fill="#000"/>
<rect x="256" y="141" width="1" height="9" fill="#000"/>
<rect x="254" y="146" width="5" height="1" fill="#000"/>
<rect x="264" y="137" width="1" height="27" fill="#000"/>
<rect x="262" y="145" width="5" height="13" fill="#000"/>
<rect x="272" y="155" width="1" height="23" fill="#000"/>
<rect x="270" y="157" width="5" height="10" fill="#000"/>
<rect x="280" y="142" width="1" height="106" fill="#000"/>
<rect x="278" y="166" width="5" height="80" fill="#000"/>
<rect x="288" y="187" width="1" height="62" fill="#000"/>
<rect x="286" y="202" width="5" height="44" fill="#000"/>
<rect x="287" y="203" width="3" height="42" fill="#fff"/>
<rect x="296" y="171" width="1" height="36" fill="#000"/>
<rect x="294" y="185" width="5" height="18" fill="#000"/>
<rect x="295" y="186" width="3" height="16" fill="#fff"/>
<rect x="304" y="184" width="1" height="21" fill="#000"/>
<rect x="302" y="185" width="5" height="8" fill="#000"/>
<rect x="312" y="189" width="1" height="24" fill="#000"/>
<rect x="310" y="192" width="5" height="15" fill="#000"/>
<rect x="320" y="174" width="1" height="49" fill="#000"/>
<rect x="318" y="182" width="5" height="25" fill="#000"/>
<rect x="319" y="183" width="3" height="23" fill="#fff"/>
<rect x="328" y="137" width="1" height="66" fill="#000"/>
<rect x="326" y="181" width="5" height="4" fill="#000"/>
<rect x="336" y="140" width="1" height="50" fill="#000"/>
<rect x="334" y="143" width="5" height="42" fill="#000"/>
<rect x="335" y="144" width="3" height="40" fill="#fff"/>
<rect x="344" y="130" width="1" height="24" fill="#000"/>
<rect x="342" y="143" width="5" height="2" fill="#000"/>
<rect x="352" y="142" width="1" height="8" fill="#000"/>
<rect x="350" y="142" width="5" height="4" fill="#000"/>
<rect x="351" y="143" width="3" height="2" fill="#fff"/>
<rect x="360" y="137" width="1" height="19" fill="#000"/>
<rect x="358" y="145" width="5" height="7" fill="#000"/>
<rect x="368" y="119" width="1" height="37" fill="#000"/>
<rect x="366" y="122" width="5" height="30" fill="#000"/>
<rect x="367" y="123" width="3" height="28" fill="#fff"/>
<rect x="376" y="92" width="1" height="49" fill="#000"/>
<rect x="374" y="110" width="5" height="13" fill="#000"/>
<rect x="375" y="111" width="3" height="11" fill="#fff"/>
<rect x="384" y="90" width="1" height="108" fill="#000"/>
<rect x="382" y="110" width="5" height="82" fill="#000"/>
<rect x="392" y="178" width="1" height="29" fill="#000"/>
<rect x="390" y="190" width="5" height="12" fill="#000"/>
<rect x="400" y="187" width="1" height="15" fill="#000"/>
<rect x="398" y="189" width="5" height="12" fill="#000"/>
<rect x="399" y="190" width="3" height="10" fill="#fff"/>
<rect x="408" y="177" width="1" height="22" fill="#000"/>
<rect x="406" y="190" width="5" height="7" fill="#000"/>
<rect x="416" y="183" width="1" height="52" fill="#000"/>
<rect x="414" y="196" width="5" height="14" fill="#000"/>
<rect x="424" y="196" width="1" height="35" fill="#000"/>
<rect x="422" y="196" width="5" height="14" fill="#000"/>
<rect x="423" y="197" width="3" height="12" fill="#fff"/>
<rect x="432" y="166" width="1" height="54" fill="#000"/>
<rect x="430" y="196" width="5" height="17" fill="#000"/>
<rect x="440" y="193" width="1" height="27" fill="#000"/>
<rect x="438" y="212" width="5" height="1" fill="#000"/>
<rect x="448" y="206" width="1" height="14" fill="#000"/>
<rect x="446" y="209" width="5" height="4" fill="#000"/>
<rect x="447" y="210" width="3" height="2" fill="#fff"/>
<rect x="456" y="204" width="1" height="20" fill="#000"/>
<rect x="454" y="209" width="5" height="11" fill="#000"/>
<rect x="464" y="207" width="1" height="30" fill="#000"/>
<rect x="462" y="219" width="5" height="10" fill="#000"/>
<rect x="472" y="220" width="1" height="69" fill="#000"/>
<rect x="470" y="227" width="5" height="40" fill="#000"/>
<rect x="480" y="248" width="1" height="97" fill="#000"/>
<rect x="478" y="266" width="5" height="61" fill="#000"/>
<rect x="488" y="312" width="1" height="43" fill="#000"/>
<rect x="486" y="327" width="5" height="24" fill="#000"/>
<rect x="496" y="335" width="1" height="7" fill="#000"/>
<rect x="494" y="337" width="5" height="3" fill="#000"/>
<rect x="495" y="338" width="3" height="1" fill="#fff"/>
<rect x="504" y="330" width="1" height="14" fill="#000"/>
<rect x="502" y="332" width="5" height="5" fill="#000"/>
<rect x="503" y="333" width="3" height="3" fill="#fff"/>
<rect x="512" y="331" width="1" height="39" fill="#000"/>
<rect x="510" y="332" width="5" height="29" fill="#000"/>
<rect x="520" y="328" width="1" height="34" fill="#000"/>
<rect x="518" y="345" width="5" height="16" fill="#000"/>
<rect x="519" y="346" width="3" height="14" fill="#fff"/>
<rect x="528" y="319" width="1" height="78" fill="#000"/>
<rect x="526" y="343" width="5" height="35" fill="#000"/>
<rect x="536" y="373" width="1" height="53" fill="#000"/>
<rect x="534" y="377" width="5" height="45" fill="#000"/>
<rect x="544" y="413" width="1" height="15" fill="#000"/>
<rect x="542" y="414" width="5" height="8" fill="#000"/>
<rect x="543" y="415" width="3" height="6" fill="#fff"/>
<rect x="552" y="410" width="1" height="49" fill="#000"/>
<rect x="550" y="414" width="5" height="31" fill="#000"/>
<rect x="560" y="409" width="1" height="37" fill="#000"/>
<rect x="558" y="422" width="5" height="24" fill="#000"/>
<rect x="559" y="423" width="3" height="22" fill="#fff"/>
<rect x="568" y="417" width="1" height="37" fill="#000"/>
<rect x="566" y="424" width="5" height="23" fill="#000"/>
<rect x="576" y="394" width="1" height="74" fill="#000"/>
<rect x="574" y="407" width="5" height="40" fill="#000"/>
<rect x="575" y="408" width="3" height="38" fill="#fff"/>
<rect x="584" y="379" width="1" height="41" fill="#000"/>
<rect x="582" y="387" width="5" height="21" fill="#000"/>
<rect x="583" y="388" width="3" height="19" fill="#fff"/>
<rect x="592" y="373" width="1" height="24" fill="#000"/>
<rect x="590" y="379" width="5" height="10" fill="#000"/>
<rect x="591" y="380" width="3" height="8" fill="#fff"/>
<rect x="600" y="372" width="1" height="20" fill="#000"/>
<rect x="598" y="378" width="5" height="7" fill="#000"/>
<rect x="608" y="380" width="1" height="33" fill="#000"/>
<rect x="606" y="383" width="5" height="9" fill="#000"/>
<rect x="616" y="344" width="1" height="51" fill="#000"/>
<rect x="614" y="353" width="5" height="38" fill="#000"/>
<rect x="615" y="354" width="3" height="36" fill="#fff"/>
<rect x="624" y="269" width="1" height="88" fill="#000"/>
<rect x="622" y="289" width="5" height="65" fill="#000"/>
<rect x="623" y="290" width="3" height="63" fill="#fff"/>
<rect x="632" y="217" width="1" height="79" fill="#000"/>
<rect x="630" y="250" width="5" height="40" fill="#000"/>
<rect x="631" y="251" width="3" height="38" fill="#fff"/>
<rect x="640" y="244" width="1" height="28" fill="#000"/>
<rect x="638" y="248" width="5" height="4" fill="#000"/>
<rect x="639" y="249" width="3" height="2" fill="#fff"/>
<rect x="648" y="194" width="1" height="57" fill="#000"/>
<rect x="646" y="198" width="5" height="51" fill="#000"/>
<rect x="647" y="199" width="3" height="49" fill="#fff"/>
<rect x="656" y="139" width="1" height="74" fill="#000"/>
<rect x="654" y="144" width="5" height="55" fill="#000"/>
<rect x="655" y="145" width="3" height="53" fill="#fff"/>
<rect x="664" y="137" width="1" height="71" fill="#000"/>
<rect x="662" y="144" width="5" height="51" fill="#000"/>
<rect x="672" y="166" width="1" height="55" fill="#000"/>
<rect x="670" y="178" width="5" height="17" fill="#000"/>
<rect x="671" y="179" width="3" height="15" fill="#fff"/>
<rect x="680" y="161" width="1" height="32" fill="#000"/>
<rect x="678" y="170" width="5" height="10" fill="#000"/>
<rect x="679" y="171" width="3" height="8" fill="#fff"/>
<rect x="688" y="166" width="1" height="13" fill="#000"/>
<rect x="686" y="167" width="5" height="4" fill="#000"/>
<rect x="687" y="168" width="3" height="2" fill="#fff"/>
<rect x="696" y="141" width="1" height="31" fill="#000"/>
<rect x="694" y="159" width="5" height="9" fill="#000"/>
<rect x="695" y="160" width="3" height="7" fill="#fff"/>
<rect x="704" y="158" width="1" height="47" fill="#000"/>
<rect x="702" y="159" width="5" height="19" fill="#000"/>
<rect x="712" y="177" width="1" height="88" fill="#000"/>
<rect x="710" y="177" width="5" height="59" fill="#000"/>
<rect x="720" y="165" width="1" height="83" fill="#000"/>
<rect x="718" y="174" width="5" height="62" fill="#000"/>
<rect x="719" y="175" width="3" height="60" fill="#fff"/>
<rect x="728" y="120" width="1" height="58" fill="#000"/>
<rect x="726" y="123" width="5" height="52" fill="#000"/>
<rect x="727" y="124" width="3" height="50" fill="#fff"/>
<rect x="736" y="100" width="1" height="18" fill="#000"/>
<rect x="734" y="101" width="5" height="13" fill="#000"/>
<rect x="735" y="102" width="3" height="11" fill="#fff"/>
<rect x="744" y="94" width="1" height="21" fill="#000"/>
<rect x="742" y="102" width="5" height="2" fill="#000"/>
<rect x="752" y="79" width="1" height="66" fill="#000"/>
<rect x="750" y="103" width="5" height="35" fill="#000"/>
<rect x="760" y="87" width="1" height="56" fill="#000"/>
<rect x="758" y="100" width="5" height="39" fill="#000"/>
<rect x="759" y="101" width="3" height="37" fill="#fff"/>
<rect x="768" y="92" width="1" height="74" fill="#000"/>
<rect x="766" y="101" width="5" height="38" fill="#000"/>
<rect x="776" y="109" width="1" height="38" fill="#000"/>
<rect x="774" y="115" width="5" height="24" fill="#000"/>
<rect x="775" y="116" width="3" height="22" fill="#fff"/>
<rect x="784" y="111" width="1" height="19" fill="#000"/>
<rect x="782" y="116" width="5" height="5" fill="#000"/>
<rect x="792" y="99" width="1" height="27" fill="#000"/>
<rect x="790" y="108" width="5" height="13" fill="#000"/>
<rect x="791" y="109" width="3" height="11" fill="#fff"/>
<rect x="800" y="54" width="1" height="66" fill="#000"/>
<rect x="798" y="90" width="5" height="19" fill="#000"/>
<rect x="799" y="91" width="3" height="17" fill="#fff"/>
<rect x="808" y="77" width="1" height="65" fill="#000"/>
<rect x="806" y="90" width="5" height="45" fill="#000"/>
<rect x="816" y="115" width="1" height="49" fill="#000"/>
<rect x="814" y="135" width="5" height="13" fill="#000"/>
<rect x="824" y="147" width="1" height="74" fill="#000"/>
<rect x="822" y="148" width="5" height="49" fill="#000"/>
<rect x="832" y="187" width="1" height="18" fill="#000"/>
<rect x="830" y="192" width="5" height="5" fill="#000"/>
<rect x="831" y="193" width="3" height="3" fill="#fff"/>
<rect x="840" y="187" width="1" height="27" fill="#000"/>
<rect x="838" y="193" width="5" height="10" fill="#000"/>
<rect x="848" y="201" width="1" height="33" fill="#000"/>
<rect x="846" y="204" width="5" height="17" fill="#000"/>
<rect x="856" y="167" width="1" height="57" fill="#000"/>
<rect x="854" y="206" width="5" height="16" fill="#000"/>
<rect x="855" y="207" width="3" height="14" fill="#fff"/>
<rect x="864" y="181" width="1" height="52" fill="#000"/>
<rect x="862" y="188" width="5" height="19" fill="#000"/>
<rect x="863" y="189" width="3" height="17" fill="#fff"/>
<rect x="872" y="176" width="1" height="25" fill="#000"/>
<rect x="870" y="185" width="5" height="9" fill="#000"/>
<rect x="880" y="184" width="1" height="19" fill="#000"/>
<rect x="878" y="186" width="5" height="8" fill="#000"/>
<rect x="879" y="187" width="3" height="6" fill="#fff"/>
<rect x="888" y="181" width="1" height="26" fill="#000"/>
<rect x="886" y="186" width="5" height="19" fill="#000"/>
<rect x="896" y="167" width="1" height="58" fill="#000"/>
<rect x="894" y="201" width="5" height="3" fill="#000"/>
<rect x="895" y="202" width="3" height="1" fill="#fff"/>
<rect x="904" y="141" width="1" height="73" fill="#000"/>
<rect x="902" y="172" width="5" height="30" fill="#000"/>
<rect x="903" y="173" width="3" height="28" fill="#fff"/>
<rect x="912" y="152" width="1" height="80" fill="#000"/>
<rect x="910" y="172" width="5" height="48" fill="#000"/>
<rect x="920" y="201" width="1" height="35" fill="#000"/>
<rect x="918" y="218" width="5" height="3" fill="#000"/>
<rect x="928" y="215" width="1" height="17" fill="#000"/>
<rect x="926" y="217" width="5" height="4" fill="#000"/>
<rect x="927" y="218" width="3" height="2" fill="#fff"/>
<rect x="936" y="210" width="1" height="19" fill="#000"/>
<rect x="934" y="218" width="5" height="2" fill="#000"/>
<rect x="944" y="201" width="1" height="31" fill="#000"/>
<rect x="942" y="215" width="5" height="5" fill="#000"/>
<rect x="943" y="216" width="3" height="3" fill="#fff"/>
<rect x="952" y="180" width="1" height="50" fill="#000"/>
<rect x="950" y="191" width="5" height="24" fill="#000"/>
<rect x="951" y="192" width="3" height="22" fill="#fff"/>
<rect x="960" y="126" width="1" height="72" fill="#000"/>
<rect x="958" y="173" width="5" height="19" fill="#000"/>
<rect x="959" y="174" width="3" height="17" fill="#fff"/>
<rect x="968" y="169" width="1" height="29" fill="#000"/>
<rect x="966" y="172" width="5" height="3" fill="#000"/>
<rect x="967" y="173" width="3" height="1" fill="#fff"/>
<rect x="976" y="174" width="1" height="17" fill="#000"/>
<rect x="974" y="180" width="5" height="9" fill="#000"/>
<rect x="984" y="170" width="1" height="27" fill="#000"/>
<rect x="982" y="181" width="5" height="8" fill="#000"/>
<rect x="983" y="182" width="3" height="6" fill="#fff"/>
<rect x="992" y="176" width="1" height="68" fill="#000"/>
<rect x="990" y="181" width="5" height="62" fill="#000"/>
<rect x="1000" y="230" width="1" height="47" fill="#000"/>
<rect x="998" y="242" width="5" height="18" fill="#000"/>
<rect x="1008" y="220" width="1" height="60" fill="#000"/>
<rect x="1006" y="259" width="5" height="4" fill="#000"/>
<rect x="1016" y="248" width="1" height="32" fill="#000"/>
<rect x="1014" y="262" width="5" height="9" fill="#000"/>
<rect x="1024" y="256" width="1" height="18" fill="#000"/>
<rect x="1022" y="261" width="5" height="10" fill="#000"/>
<rect x="1023" y="262" width="3" height="8" fill="#fff"/>
<rect x="1032" y="259" width="1" height="13" fill="#000"/>
<rect x="1030" y="260" width="5" height="12" fill="#000"/>
<rect x="1040" y="259" width="1" height="41" fill="#000"/>
<rect x="1038" y="270" width="5" height="22" fill="#000"/>
<rect x="1048" y="281" width="1" height="37" fill="#000"/>
<rect x="1046" y="285" width="5" height="7" fill="#000"/>
<rect x="1047" y="286" width="3" height="5" fill="#fff"/>
<rect x="1056" y="260" width="1" height="92" fill="#000"/>
<rect x="1054" y="285" width="5" height="46" fill="#000"/>
<rect x="1064" y="302" width="1" height="30" fill="#000"/>
<rect x="1062" y="330" width="5" height="1" fill="#000"/>
<rect x="1072" y="328" width="1" height="11" fill="#000"/>
<rect x="1070" y="331" width="5" height="1" fill="#000"/>
<rect x="1080" y="326" width="1" height="18" fill="#000"/>
<rect x="1078" y="330" width="5" height="11" fill="#000"/>
<rect x="1088" y="339" width="1" height="52" fill="#000"/>
<rect x="1086" y="340" width="5" height="30" fill="#000"/>
<rect x="1096" y="353" width="1" height="37" fill="#000"/>
<rect x="1094" y="358" width="5" height="11" fill="#000"/>
<rect x="1095" y="359" width="3" height="9" fill="#fff"/>
<rect x="1104" y="340" width="1" height="49" fill="#000"/>
<rect x="1102" y="358" width="5" height="19" fill="#000"/>
<rect x="1112" y="353" width="1" height="36" fill="#000"/>
<rect x="1110" y="361" width="5" height="16" fill="#000"/>
<rect x="1111" y="362" width="3" height="14" fill="#fff"/>
<rect x="1120" y="352" width="1" height="38" fill="#000"/>
<rect x="1118" y="352" width="5" height="10" fill="#000"/>
<rect x="1119" y="353" width="3" height="8" fill="#fff"/>
<rect x="1128" y="340" width="1" height="22" fill="#000"/>
<rect x="1126" y="353" width="5" height="5" fill="#000"/>
<rect x="1136" y="345" width="1" height="29" fill="#000"/>
<rect x="1134" y="357" width="5" height="3" fill="#000"/>
<rect x="1144" y="344" width="1" height="30" fill="#000"/>
<rect x="1142" y="360" width="5" height="1" fill="#000"/>
<rect x="1152" y="348" width="1" height="24" fill="#000"/>
<rect x="1150" y="355" width="5" height="5" fill="#000"/>
<rect x="1151" y="356" width="3" height="3" fill="#fff"/>
<rect x="1160" y="345" width="1" height="20" fill="#000"/>
<rect x="1158" y="354" width="5" height="8" fill="#000"/>
<rect x="1168" y="352" width="1" height="13" fill="#000"/>
<rect x="1166" y="353" width="5" height="9" fill="#000"/>
<rect x="1167" y="354" width="3" height="7" fill="#fff"/>
<rect x="1176" y="352" width="1" height="13" fill="#000"/>
<rect x="1174" y="352" width="5" height="4" fill="#000"/>
<rect x="1184" y="345" width="1" height="42" fill="#000"/>
<rect x="1182" y="354" width="5" height="33" fill="#000"/>
<rect x="1192" y="381" width="1" height="35" fill="#000"/>
<rect x="1190" y="385" width="5" height="17" fill="#000"/>
<rect x="1200" y="384" width="1" height="121" fill="#000"/>
<rect x="1198" y="400" width="5" height="68" fill="#000"/>
<rect x="1208" y="437" width="1" height="32" fill="#000"/>
<rect x="1206" y="439" width="5" height="30" fill="#000"/>
<rect x="1207" y="440" width="3" height="28" fill="#fff"/>
<rect x="1216" y="435" width="1" height="8" fill="#000"/>
<rect x="1214" y="436" width="5" height="5" fill="#000"/>
<rect x="1224" y="430" width="1" height="16" fill="#000"/>
<rect x="1222" y="439" width="5" height="6" fill="#000"/>
<rect x="1232" y="426" width="1" height="33" fill="#000"/>
<rect x="1230" y="440" width="5" height="5" fill="#000"/>
<rect x="1231" y="441" width="3" height="3" fill="#fff"/>
<rect x="1240" y="416" width="1" height="42" fill="#000"/>
<rect x="1238" y="441" width="5" height="15" fill="#000"/>
<rect x="1248" y="433" width="1" height="44" fill="#000"/>
<rect x="1246" y="455" width="5" height="18" fill="#000"/>
<rect x="1256" y="444" width="1" height="33" fill="#000"/>
<rect x="1254" y="462" width="5" height="11" fill="#000"/>
<rect x="1255" y="463" width="3" height="9" fill="#fff"/>
<rect x="1264" y="447" width="1" height="16" fill="#000"/>
<rect x="1262" y="453" width="5" height="10" fill="#000"/>
<rect x="1263" y="454" width="3" height="8" fill="#fff"/>
<rect x="1272" y="448" width="1" height="18" fill="#000"/>
<rect x="1270" y="453" width="5" height="9" fill="#000"/>
<rect x="1280" y="457" width="1" height="51" fill="#000"/>
<rect x="1278" y="461" width="5" height="44" fill="#000"/>
<rect x="1288" y="500" width="1" height="67" fill="#000"/>
<rect x="1286" y="503" width="5" height="44" fill="#000"/>
<rect x="1296" y="510" width="1" height="51" fill="#000"/>
<rect x="1294" y="532" width="5" height="15" fill="#000"/>
<rect x="1295" y="533" width="3" height="13" fill="#fff"/>
<rect x="1304" y="511" width="1" height="46" fill="#000"/>
<rect x="1302" y="531" width="5" height="2" fill="#000"/>
<rect x="1312" y="528" width="1" height="12" fill="#000"/>
<rect x="1310" y="531" width="5" height="9" fill="#000"/>
<rect x="1320" y="536" width="1" height="15" fill="#000"/>
<rect x="1318" y="539" width="5" height="9" fill="#000"/>
<rect x="1328" y="532" width="1" height="29" fill="#000"/>
<rect x="1326" y="538" width="5" height="9" fill="#000"/>
<rect x="1327" y="539" width="3" height="7" fill="#fff"/>
<rect x="1336" y="482" width="1" height="59" fill="#000"/>
<rect x="1334" y="518" width="5" height="21" fill="#000"/>
<rect x="1335" y="519" width="3" height="19" fill="#fff"/>
<rect x="1344" y="443" width="1" height="78" fill="#000"/>
<rect x="1342" y="466" width="5" height="53" fill="#000"/>
<rect x="1343" y="467" width="3" height="51" fill="#fff"/>
<rect x="1352" y="449" width="1" height="29" fill="#000"/>
<rect x="1350" y="468" width="5" height="3" fill="#000"/>
<rect x="1360" y="460" width="1" height="17" fill="#000"/>
<rect x="1358" y="467" width="5" height="4" fill="#000"/>
<rect x="1359" y="468" width="3" height="2" fill="#fff"/>
<rect x="1368" y="418" width="1" height="52" fill="#000"/>
<rect x="1366" y="424" width="5" height="44" fill="#000"/>
<rect x="1367" y="425" width="3" height="42" fill="#fff"/>
<rect x="1376" y="415" width="1" height="27" fill="#000"/>
<rect x="1374" y="420" width="5" height="6" fill="#000"/>
<rect x="1375" y="421" width="3" height="4" fill="#fff"/>
<rect x="1384" y="370" width="1" height="61" fill="#000"/>
<rect x="1382" y="393" width="5" height="28" fill="#000"/>
<rect x="1383" y="394" width="3" height="26" fill="#fff"/>
<rect x="1392" y="371" width="1" height="65" fill="#000"/>
<rect x="1390" y="393" width="5" height="12" fill="#000"/>
<rect x="1400" y="403" width="1" height="60" fill="#000"/>
<rect x="1398" y="404" width="5" height="33" fill="#000"/>
<rect x="1408" y="431" width="1" height="19" fill="#000"/>
<rect x="1406" y="437" width="5" height="9" fill="#000"/>
<rect x="1416" y="410" width="1" height="37" fill="#000"/>
<rect x="1414" y="410" width="5" height="37" fill="#000"/>
<rect x="1415" y="411" width="3" height="35" fill="#fff"/>
<rect x="1424" y="400" width="1" height="31" fill="#000"/>
<rect x="1422" y="409" width="5" height="14" fill="#000"/>
<rect x="1432" y="405" width="1" height="40" fill="#000"/>
<rect x="1430" y="422" width="5" height="3" fill="#000"/>
<rect x="1440" y="382" width="1" height="52" fill="#000"/>
<rect x="1438" y="398" width="5" height="28" fill="#000"/>
<rect x="1439" y="399" width="3" height="26" fill="#fff"/>
<rect x="1448" y="363" width="1" height="37" fill="#000"/>
<rect x="1446" y="369" width="5" height="30" fill="#000"/>
<rect x="1447" y="370" width="3" height="28" fill="#fff"/>
</g>
<polygon points="1458,27 1469,27 1463.5,32.5" fill="#c0c0c0"/>
<rect x="1380" y="386" width="76" height="14" fill="#00f000" shape-rendering="crispEdges"/>
<g shape-rendering="crispEdges"><rect x="1465" y="390" width="8" height="1" fill="#ff0000"/><rect x="1471.5" y="388.5" width="3" height="4" fill="#fff" stroke="#ff0000"/><rect x="1475.5" y="378.5" width="73" height="23" fill="#fff" stroke="#ff0000" stroke-width="1"/></g>
<text x="1477.5" y="398" font-family='"Liberation Sans", sans-serif' font-size="20" fill="#ff0000" textLength="69.5" lengthAdjust="spacingAndGlyphs">1.25567</text>
<polyline points="0.0,705.3 12.5,703.6 25.0,702.0 37.6,697.8 50.0,693.3 62.7,686.5 72.7,680.2 82.7,674.7 96.5,667.7 107.8,660.7 120.3,652.7 132.8,645.2 145.4,639.6 155.4,634.6 165.4,631.9 175.4,630.9 190.5,630.6 203.0,630.6 208.0,631.9 220.6,633.1 235.6,633.4 248.0,632.6 263.0,632.1 275.7,632.6 285.7,635.1 300.8,637.1 313.3,640.9 323.3,646.4 333.3,649.7 345.9,653.2 353.4,653.4 363.4,651.9 376.0,650.2 388.5,648.2 401.0,647.2 410.0,648.2 420.0,650.2 432.6,653.4 440.0,657.7 450.0,662.2 460.0,665.2 472.7,670.7 480.2,676.0 487.7,679.7 496.5,685.3 505.2,692.3 517.8,701.6 530.3,711.6 542.8,721.6 552.9,730.4 560.4,733.6 567.9,739.9 575.4,741.2 584.2,745.4 593.0,746.7 603.0,746.2 615.5,743.4 623.0,737.9 633.0,730.4 640.6,721.6 648.1,711.6 655.6,700.3 663.1,689.0 670.7,676.5 678.2,666.5 685.7,653.9 693.2,641.4 703.2,630.1 713.3,621.4 723.3,614.6 733.3,609.6 743.3,605.1 753.4,602.6 763.4,599.5 773.4,598.8 785.9,597.0 798.5,595.8 811.0,595.8 818.5,598.3 823.8,600.1 830.0,602.6 842.6,610.6 853.8,619.3 866.4,630.1 878.9,639.4 890.2,647.7 902.7,654.4 915.2,658.9 927.8,662.2 940.3,665.2 952.8,667.7 965.4,669.2 977.9,669.2 985.4,668.2 995.4,668.5 1008.0,670.2 1020.5,672.0 1033.0,675.2 1045.6,681.5 1058.1,687.8 1070.6,695.3 1083.2,700.3 1095.7,706.6 1108.2,712.8 1120.8,717.3 1135.8,721.1 1150.8,721.6 1160.9,721.4 1170.9,719.1 1183.4,716.6 1193.4,714.6 1206.0,714.6 1218.5,715.5 1232.5,717.3 1245.0,720.4 1257.6,723.6 1270.0,725.4 1282.7,726.6 1295.2,728.4 1307.7,729.6 1320.3,732.1 1332.8,733.6 1345.3,734.1 1355.3,732.1 1365.4,727.9 1375.4,721.6 1385.4,711.6 1395.4,701.6 1405.5,692.8 1415.5,684.0 1425.5,676.5 1435.6,669.7 1443.0,665.2 1448.0,662.2" fill="none" stroke="#ff0000" stroke-width="1" stroke-dasharray="3,3.4" shape-rendering="crispEdges"/>
<polyline points="0.0,854.2 8.0,849.2 16.0,846.7 24.0,841.7 32.0,841.2 40.0,856.2 48.0,854.2 56.0,836.2 64.0,838.4 72.0,837.2 80.0,841.2 88.0,832.9 96.0,836.7 104.0,824.9 112.0,828.4 120.0,827.4 128.0,829.2 136.0,829.2 144.0,827.9 152.0,838.4 160.0,838.4 168.0,838.4 176.0,840.4 184.0,823.4 192.0,828.7 200.0,839.9 208.0,840.4 216.0,840.4 224.0,832.9 232.0,834.2 240.0,822.4 248.0,821.1 256.0,832.9 264.0,836.7 272.0,840.4 280.0,863.0 288.0,850.5 296.0,846.2 304.0,848.5 312.0,851.7 320.0,846.0 328.0,845.5 336.0,834.2 344.0,835.4 352.0,834.2 360.0,837.4 368.0,830.4 376.0,827.2 384.0,851.7 392.0,854.2 400.0,851.0 408.0,853.0 416.0,856.2 424.0,852.2 432.0,857.2 440.0,856.2 448.0,855.5 456.0,859.2 464.0,861.2 472.0,872.3 480.0,883.0 488.0,886.8 496.0,881.0 504.0,879.3 512.0,884.3 520.0,877.5 528.0,883.5 536.0,889.3 544.0,886.3 552.0,890.1 560.0,881.0 568.0,885.1 576.0,869.8 584.0,864.3 592.0,861.2 600.0,862.2 608.0,864.3 616.0,851.7 624.0,835.4 632.0,828.7 640.0,827.2 648.0,819.1 656.0,812.4 664.0,826.2 672.0,823.4 680.0,822.4 688.0,822.1 696.0,820.4 704.0,825.4 712.0,842.2 720.0,831.2 728.0,823.4 736.0,820.4 744.0,821.6 752.0,830.4 760.0,824.7 768.0,833.4 776.0,830.4 784.0,831.2 792.0,829.7 800.0,826.7 808.0,836.7 816.0,840.9 824.0,851.2 832.0,851.2 840.0,853.0 848.0,857.2 856.0,853.5 864.0,848.5 872.0,849.7 880.0,847.2 888.0,852.5 896.0,851.2 904.0,843.7 912.0,855.0 920.0,856.2 928.0,855.5 936.0,855.0 944.0,853.0 952.0,845.5 960.0,840.4 968.0,839.2 976.0,845.5 984.0,843.4 992.0,861.7 1000.0,866.0 1008.0,867.3 1016.0,869.3 1024.0,865.0 1032.0,866.8 1040.0,873.0 1048.0,869.3 1056.0,880.0 1064.0,880.0 1072.0,880.0 1080.0,881.8 1088.0,887.3 1096.0,881.0 1104.0,885.1 1112.0,876.8 1120.0,873.5 1128.0,874.3 1136.0,874.3 1144.0,875.5 1152.0,871.3 1160.0,873.5 1168.0,868.5 1176.0,869.8 1184.0,878.8 1192.0,883.0 1200.0,895.1 1208.0,880.0 1216.0,880.0 1224.0,881.3 1232.0,879.3 1240.0,882.5 1248.0,886.3 1256.0,880.5 1264.0,875.0 1272.0,877.3 1280.0,886.8 1288.0,893.1 1296.0,886.3 1304.0,886.3 1312.0,887.3 1320.0,889.3 1328.0,883.5 1336.0,872.3 1344.0,850.0 1352.0,851.2 1360.0,850.0 1368.0,836.2 1376.0,834.2 1384.0,827.2 1392.0,831.2 1400.0,842.4 1408.0,847.2 1416.0,836.2 1424.0,839.9 1432.0,841.7 1440.0,834.2 1448.0,827.2" fill="none" stroke="#1e90ff" stroke-width="1" shape-rendering="crispEdges"/>
<text x="1634.5" y="51.7" font-family='"Liberation Sans", sans-serif' font-size="9" fill="#000" text-anchor="start" font-weight="normal" textLength="32.5" lengthAdjust="spacingAndGlyphs">1.27860</text>
<text x="1634.5" y="84.7" font-family='"Liberation Sans", sans-serif' font-size="9" fill="#000" text-anchor="start" font-weight="normal" textLength="32.5" lengthAdjust="spacingAndGlyphs">1.27640</text>
<text x="1634.5" y="117.7" font-family='"Liberation Sans", sans-serif' font-size="9" fill="#000" text-anchor="start" font-weight="normal" textLength="32.5" lengthAdjust="spacingAndGlyphs">1.27420</text>
<text x="1634.5" y="150.7" font-family='"Liberation Sans", sans-serif' font-size="9" fill="#000" text-anchor="start" font-weight="normal" textLength="32.5" lengthAdjust="spacingAndGlyphs">1.27195</text>
<text x="1634.5" y="183.7" font-family='"Liberation Sans", sans-serif' font-size="9" fill="#000" text-anchor="start" font-weight="normal" textLength="32.5" lengthAdjust="spacingAndGlyphs">1.26975</text>
<text x="1634.5" y="216.7" font-family='"Liberation Sans", sans-serif' font-size="9" fill="#000" text-anchor="start" font-weight="normal" textLength="32.5" lengthAdjust="spacingAndGlyphs">1.26755</text>
<text x="1634.5" y="249.7" font-family='"Liberation Sans", sans-serif' font-size="9" fill="#000" text-anchor="start" font-weight="normal" textLength="32.5" lengthAdjust="spacingAndGlyphs">1.26530</text>
<text x="1634.5" y="282.7" font-family='"Liberation Sans", sans-serif' font-size="9" fill="#000" text-anchor="start" font-weight="normal" textLength="32.5" lengthAdjust="spacingAndGlyphs">1.26310</text>
<text x="1634.5" y="348.7" font-family='"Liberation Sans", sans-serif' font-size="9" fill="#000" text-anchor="start" font-weight="normal" textLength="32.5" lengthAdjust="spacingAndGlyphs">1.25865</text>
<text x="1634.5" y="381.7" font-family='"Liberation Sans", sans-serif' font-size="9" fill="#000" text-anchor="start" font-weight="normal" textLength="32.5" lengthAdjust="spacingAndGlyphs">1.25645</text>
<text x="1634.5" y="480.7" font-family='"Liberation Sans", sans-serif' font-size="9" fill="#000" text-anchor="start" font-weight="normal" textLength="32.5" lengthAdjust="spacingAndGlyphs">1.24980</text>
<text x="1634.5" y="513.7" font-family='"Liberation Sans", sans-serif' font-size="9" fill="#000" text-anchor="start" font-weight="normal" textLength="32.5" lengthAdjust="spacingAndGlyphs">1.24760</text>
<text x="1634.5" y="546.7" font-family='"Liberation Sans", sans-serif' font-size="9" fill="#000" text-anchor="start" font-weight="normal" textLength="32.5" lengthAdjust="spacingAndGlyphs">1.24540</text>
<text x="1634.5" y="579.7" font-family='"Liberation Sans", sans-serif' font-size="9" fill="#000" text-anchor="start" font-weight="normal" textLength="32.5" lengthAdjust="spacingAndGlyphs">1.24315</text>
<rect x="1630" y="305" width="41" height="11" fill="#ff4500" shape-rendering="crispEdges"/>
<text x="1634.5" y="314" font-family='"Liberation Sans", sans-serif' font-size="9" fill="#fff" text-anchor="start" font-weight="normal" textLength="32.5" lengthAdjust="spacingAndGlyphs">1.26096</text>
<rect x="1630" y="333" width="41" height="11" fill="#ff4500" shape-rendering="crispEdges"/>
<text x="1634.5" y="342" font-family='"Liberation Sans", sans-serif' font-size="9" fill="#fff" text-anchor="start" font-weight="normal" textLength="32.5" lengthAdjust="spacingAndGlyphs">1.25909</text>
<rect x="1630" y="363" width="41" height="11" fill="#000" shape-rendering="crispEdges"/>
<text x="1634.5" y="372" font-family='"Liberation Sans", sans-serif' font-size="9" fill="#fff" text-anchor="start" font-weight="normal" textLength="32.5" lengthAdjust="spacingAndGlyphs">1.25706</text>
<rect x="1630" y="384" width="41" height="11" fill="#22ee88" shape-rendering="crispEdges"/>
<text x="1634.5" y="393" font-family='"Liberation Sans", sans-serif' font-size="9" fill="#fff" text-anchor="start" font-weight="normal" textLength="32.5" lengthAdjust="spacingAndGlyphs">1.25567</text>
<rect x="1630" y="408" width="41" height="11" fill="#0000ff" shape-rendering="crispEdges"/>
<text x="1634.5" y="417" font-family='"Liberation Sans", sans-serif' font-size="9" fill="#fff" text-anchor="start" font-weight="normal" textLength="32.5" lengthAdjust="spacingAndGlyphs">1.25406</text>
<rect x="1630" y="437" width="41" height="11" fill="#0000ff" shape-rendering="crispEdges"/>
<text x="1634.5" y="446" font-family='"Liberation Sans", sans-serif' font-size="9" fill="#fff" text-anchor="start" font-weight="normal" textLength="32.5" lengthAdjust="spacingAndGlyphs">1.25212</text>
<text x="1632" y="591.4" font-family='"Liberation Sans", sans-serif' font-size="9" fill="#000" text-anchor="start" font-weight="normal" textLength="37.5" lengthAdjust="spacingAndGlyphs">0.003658</text>
<text x="1632" y="665.4" font-family='"Liberation Sans", sans-serif' font-size="9" fill="#000" text-anchor="start" font-weight="normal" textLength="18" lengthAdjust="spacingAndGlyphs">0.00</text>
<text x="1632" y="760.6" font-family='"Liberation Sans", sans-serif' font-size="9" fill="#000" text-anchor="start" font-weight="normal" textLength="41" lengthAdjust="spacingAndGlyphs">-0.004645</text>
<text x="1632" y="776.3" font-family='"Liberation Sans", sans-serif' font-size="9" fill="#000" text-anchor="start" font-weight="normal" textLength="15" lengthAdjust="spacingAndGlyphs">100</text>
<text x="1632" y="802.4" font-family='"Liberation Sans", sans-serif' font-size="9" fill="#000" text-anchor="start" font-weight="normal" textLength="10" lengthAdjust="spacingAndGlyphs">80</text>
<text x="1632" y="849.6" font-family='"Liberation Sans", sans-serif' font-size="9" fill="#000" text-anchor="start" font-weight="normal" textLength="10" lengthAdjust="spacingAndGlyphs">50</text>
<text x="1632" y="905.2" font-family='"Liberation Sans", sans-serif' font-size="9" fill="#000" text-anchor="start" font-weight="normal" textLength="10" lengthAdjust="spacingAndGlyphs">15</text>
<text x="1633" y="922.4" font-family='"Liberation Sans", sans-serif' font-size="9" fill="#000" text-anchor="start" font-weight="normal">0</text>
<text x="4.3" y="594" font-family='"Liberation Sans", sans-serif' font-size="8.6" fill="#000" text-anchor="start" font-weight="normal" textLength="147.5" lengthAdjust="spacingAndGlyphs">MACD(12,26,9) 0.000734 0.000044</text>
<text x="4.3" y="779" font-family='"Liberation Sans", sans-serif' font-size="8.6" fill="#000" text-anchor="start" font-weight="normal" textLength="68" lengthAdjust="spacingAndGlyphs">RSI(14) 63.1105</text>
<text x="0" y="939.3" font-family='"Liberation Sans", sans-serif' font-size="9.2" fill="#000" text-anchor="start" font-weight="normal" textLength="54" lengthAdjust="spacingAndGlyphs">31 May 2019</text>
<text x="63" y="939.3" font-family='"Liberation Sans", sans-serif' font-size="9.2" fill="#000" text-anchor="start" font-weight="normal" textLength="48" lengthAdjust="spacingAndGlyphs">3 Jun 20:00</text>
<text x="127" y="939.3" font-family='"Liberation Sans", sans-serif' font-size="9.2" fill="#000" text-anchor="start" font-weight="normal" textLength="48" lengthAdjust="spacingAndGlyphs">5 Jun 04:00</text>
<text x="191" y="939.3" font-family='"Liberation Sans", sans-serif' font-size="9.2" fill="#000" text-anchor="start" font-weight="normal" textLength="48" lengthAdjust="spacingAndGlyphs">6 Jun 12:00</text>
<text x="255" y="939.3" font-family='"Liberation Sans", sans-serif' font-size="9.2" fill="#000" text-anchor="start" font-weight="normal" textLength="48" lengthAdjust="spacingAndGlyphs">9 Jun 23:00</text>
<text x="319" y="939.3" font-family='"Liberation Sans", sans-serif' font-size="9.2" fill="#000" text-anchor="start" font-weight="normal" textLength="52.5" lengthAdjust="spacingAndGlyphs">11 Jun 04:00</text>
<text x="383" y="939.3" font-family='"Liberation Sans", sans-serif' font-size="9.2" fill="#000" text-anchor="start" font-weight="normal" textLength="52.5" lengthAdjust="spacingAndGlyphs">12 Jun 12:00</text>
<text x="447" y="939.3" font-family='"Liberation Sans", sans-serif' font-size="9.2" fill="#000" text-anchor="start" font-weight="normal" textLength="52.5" lengthAdjust="spacingAndGlyphs">13 Jun 20:00</text>
<text x="511" y="939.3" font-family='"Liberation Sans", sans-serif' font-size="9.2" fill="#000" text-anchor="start" font-weight="normal" textLength="52.5" lengthAdjust="spacingAndGlyphs">17 Jun 04:00</text>
<text x="575" y="939.3" font-family='"Liberation Sans", sans-serif' font-size="9.2" fill="#000" text-anchor="start" font-weight="normal" textLength="52.5" lengthAdjust="spacingAndGlyphs">18 Jun 12:00</text>
<text x="639" y="939.3" font-family='"Liberation Sans", sans-serif' font-size="9.2" fill="#000" text-anchor="start" font-weight="normal" textLength="52.5" lengthAdjust="spacingAndGlyphs">19 Jun 20:00</text>
<text x="703" y="939.3" font-family='"Liberation Sans", sans-serif' font-size="9.2" fill="#000" text-anchor="start" font-weight="normal" textLength="52.5" lengthAdjust="spacingAndGlyphs">21 Jun 04:00</text>
<text x="767" y="939.3" font-family='"Liberation Sans", sans-serif' font-size="9.2" fill="#000" text-anchor="start" font-weight="normal" textLength="52.5" lengthAdjust="spacingAndGlyphs">24 Jun 12:00</text>
<text x="831" y="939.3" font-family='"Liberation Sans", sans-serif' font-size="9.2" fill="#000" text-anchor="start" font-weight="normal" textLength="52.5" lengthAdjust="spacingAndGlyphs">25 Jun 20:00</text>
<text x="895" y="939.3" font-family='"Liberation Sans", sans-serif' font-size="9.2" fill="#000" text-anchor="start" font-weight="normal" textLength="52.5" lengthAdjust="spacingAndGlyphs">27 Jun 04:00</text>
<text x="959" y="939.3" font-family='"Liberation Sans", sans-serif' font-size="9.2" fill="#000" text-anchor="start" font-weight="normal" textLength="52.5" lengthAdjust="spacingAndGlyphs">28 Jun 12:00</text>
<text x="1023" y="939.3" font-family='"Liberation Sans", sans-serif' font-size="9.2" fill="#000" text-anchor="start" font-weight="normal" textLength="44.5" lengthAdjust="spacingAndGlyphs">1 Jul 20:00</text>
<text x="1087" y="939.3" font-family='"Liberation Sans", sans-serif' font-size="9.2" fill="#000" text-anchor="start" font-weight="normal" textLength="44.5" lengthAdjust="spacingAndGlyphs">3 Jul 04:00</text>
<text x="1151" y="939.3" font-family='"Liberation Sans", sans-serif' font-size="9.2" fill="#000" text-anchor="start" font-weight="normal" textLength="44.5" lengthAdjust="spacingAndGlyphs">4 Jul 12:00</text>
<text x="1215" y="939.3" font-family='"Liberation Sans", sans-serif' font-size="9.2" fill="#000" text-anchor="start" font-weight="normal" textLength="44.5" lengthAdjust="spacingAndGlyphs">7 Jul 23:00</text>
<text x="1279" y="939.3" font-family='"Liberation Sans", sans-serif' font-size="9.2" fill="#000" text-anchor="start" font-weight="normal" textLength="44.5" lengthAdjust="spacingAndGlyphs">9 Jul 04:00</text>
<text x="1343" y="939.3" font-family='"Liberation Sans", sans-serif' font-size="9.2" fill="#000" text-anchor="start" font-weight="normal" textLength="49" lengthAdjust="spacingAndGlyphs">10 Jul 12:00</text>
<text x="1407" y="939.3" font-family='"Liberation Sans", sans-serif' font-size="9.2" fill="#000" text-anchor="start" font-weight="normal" textLength="49" lengthAdjust="spacingAndGlyphs">11 Jul 20:00</text>
<polygon points="3,37 10,37 6.5,32.5" fill="#000"/>
<text x="15" y="37.5" font-family='"Liberation Sans", sans-serif' font-size="8.3" fill="#000" text-anchor="start" font-weight="normal" textLength="204" lengthAdjust="spacingAndGlyphs">GBPUSD-,H4&#160;&#160;1.25513 1.25747 1.25508 1.25706</text>
<defs>
<linearGradient id="gb" gradientUnits="userSpaceOnUse" x1="0" y1="46" x2="0" y2="110"><stop offset="0" stop-color="#5858fc"/><stop offset="0.4" stop-color="#3838e2"/><stop offset="0.75" stop-color="#1515c0"/><stop offset="1" stop-color="#0000a6"/></linearGradient>
</defs>
<g shape-rendering="crispEdges">
<path d="M3 46H55V70H112V110H3Z" fill="url(#gb)"/>
<path d="M222 46H170V70H114V110H222Z" fill="url(#gb)"/>
<path d="M3.5 110V46.5H54.5V70.5H111.5V110" fill="none" stroke="#0a0ab8" stroke-width="1"/>
<path d="M221.5 110V46.5H170.5V70.5H114.5V110" fill="none" stroke="#0a0ab8" stroke-width="1"/>
<rect x="7" y="70" width="44" height="1" fill="#8c8cff"/>
<rect x="174" y="70" width="44" height="1" fill="#8c8cff"/>
<rect x="57.5" y="46.5" width="110" height="21" fill="#fff" stroke="#a8a8a8"/>
<rect x="58" y="47" width="20" height="20" fill="#e6e6e6"/>
<rect x="147" y="47" width="20" height="20" fill="#e6e6e6"/>
<rect x="78" y="47" width="1" height="20" fill="#b0b0b0"/>
<rect x="146" y="47" width="1" height="20" fill="#b0b0b0"/>
</g>
<polygon points="64.5,55 71.5,55 68,58.5" fill="#000"/>
<polygon points="153.5,58 160.5,58 157,54.5" fill="#000"/>
<text x="28" y="61.5" font-family='"Liberation Sans", sans-serif' font-size="12" fill="#fff" text-anchor="middle" font-weight="normal" textLength="26" lengthAdjust="spacingAndGlyphs">SELL</text>
<text x="195.5" y="61.5" font-family='"Liberation Sans", sans-serif' font-size="12" fill="#fff" text-anchor="middle" font-weight="normal" textLength="24" lengthAdjust="spacingAndGlyphs">BUY</text>
<text x="142.5" y="61" font-family='"Liberation Sans", sans-serif' font-size="12" fill="#000" text-anchor="end" font-weight="normal" textLength="23" lengthAdjust="spacingAndGlyphs">1.00</text>
<text x="23.5" y="100.5" font-family='"Liberation Sans", sans-serif' font-size="11" fill="#fff" text-anchor="start" font-weight="bold" textLength="23.5" lengthAdjust="spacingAndGlyphs">1.25</text>
<text x="51.5" y="101" font-family='"Liberation Sans", sans-serif' font-size="34" fill="#fff" text-anchor="start" font-weight="normal" textLength="33.5" lengthAdjust="spacingAndGlyphs">70</text>
<text x="90" y="84.5" font-family='"Liberation Sans", sans-serif' font-size="12" fill="#fff" text-anchor="start" font-weight="bold">6</text>
<text x="134" y="100.5" font-family='"Liberation Sans", sans-serif' font-size="11" fill="#fff" text-anchor="start" font-weight="bold" textLength="23.5" lengthAdjust="spacingAndGlyphs">1.25</text>
<text x="162.5" y="101" font-family='"Liberation Sans", sans-serif' font-size="34" fill="#fff" text-anchor="start" font-weight="normal" textLength="33.5" lengthAdjust="spacingAndGlyphs">72</text>
<text x="201.5" y="84.5" font-family='"Liberation Sans", sans-serif' font-size="12" fill="#fff" text-anchor="start" font-weight="bold">9</text></svg>
<svg width="1676" height="24" viewBox="0 0 1676 24" style="position:absolute;left:0;top:0"><defs>
<linearGradient id="gy" x1="0" y1="0" x2="1" y2="1"><stop offset="0" stop-color="#ffe668"/><stop offset="1" stop-color="#c8900c"/></linearGradient>
<linearGradient id="gy2" x1="0" y1="0" x2="1" y2="1"><stop offset="0" stop-color="#ffd83a"/><stop offset="0.5" stop-color="#f6c418"/><stop offset="1" stop-color="#e0a010"/></linearGradient>
<linearGradient id="gcl" x1="0" y1="0" x2="0" y2="1"><stop offset="0" stop-color="#ffffff"/><stop offset="1" stop-color="#b8c2dc"/></linearGradient>
<linearGradient id="gsec" x1="1" y1="0" x2="0" y2="1"><stop offset="0" stop-color="#cfe6cf"/><stop offset="1" stop-color="#1f9f1f"/></linearGradient>
<linearGradient id="gred" x1="0" y1="0" x2="0" y2="1"><stop offset="0" stop-color="#d02008"/><stop offset="1" stop-color="#ff3010"/></linearGradient>
<linearGradient id="gclk" x1="0" y1="0" x2="1" y2="1"><stop offset="0" stop-color="#3c9cf6"/><stop offset="1" stop-color="#0840a8"/></linearGradient>
<linearGradient id="gg" x1="0" y1="0" x2="0" y2="1"><stop offset="0" stop-color="#7af07a"/><stop offset="1" stop-color="#12a812"/></linearGradient>
<linearGradient id="gbl" x1="0" y1="0" x2="0" y2="1"><stop offset="0" stop-color="#5ab4ff"/><stop offset="1" stop-color="#0a6ae0"/></linearGradient>
<linearGradient id="glens" x1="0" y1="0" x2="0" y2="1"><stop offset="0" stop-color="#f4fbff"/><stop offset="1" stop-color="#b8dcf4"/></linearGradient>
<pattern id="chk" width="2" height="2" patternUnits="userSpaceOnUse"><rect width="2" height="2" fill="#f8f8f8"/><rect width="1" height="1" fill="#e9e9e9"/><rect x="1" y="1" width="1" height="1" fill="#e9e9e9"/></pattern>
</defs>
<path d="M-1 2.5H7.5L10.3 5.3V15.4H-1Z" fill="#fff" stroke="#9a9a9a" stroke-width="0.8"/>
<path d="M7.5 2.5V5.3H10.3" fill="#e8e8e8" stroke="#9a9a9a" stroke-width="0.6"/>
<g stroke="#9a9a9a" stroke-width="0.9"><path d="M1 5H4M1 7.6H6.5M1 10.2H6.5M1 12.8H3.5"/></g>
<path d="M7.2 8.4H10.8V12.2H14.6V15.8H10.8V19.6H7.2V15.8H3.4000000000000004V12.2H7.2Z" fill="url(#gg)" stroke="#0c8c0c" stroke-width="0.8"/>
<text x="18" y="13" font-family='"Liberation Sans", "Noto Sans CJK SC", sans-serif' font-size="12" fill="#000" textLength="36" lengthAdjust="spacingAndGlyphs">新订单</text>
<path d="M71.3 2.7L81.9 10L82 12L74 18L65.7 12.3L66.1 10.5Z" fill="#b47a0e"/>
<path d="M66.4 11.4L74.2 15.6L74 17.2L66.2 12.7Z" fill="#f0b828"/>
<path d="M74.7 15.5L81.1 10.5L81.3 11.6L74.7 16.8Z" fill="#efe6b4"/>
<path d="M71.7 3.9L80.3 9.7L74.4 14.7L67.1 10.7Z" fill="url(#gy2)"/>
<path d="M96.1 2.6H103.4L107 4.8V10.6H96.1Z" fill="#1e96f4"/>
<path d="M96.1 2.8L99.2 5.2V10.6H96.1Z" fill="#00a4ff"/>
<path d="M96.1 2.6H103.4L107 4.8L99.2 5.2Z" fill="#48b4ff"/>
<path d="M96.4 2.9L99.2 5.2V10.4" stroke="#e4f4ff" stroke-width="0.7" fill="none"/>
<path d="M101.1 7.1L105.4 6.7" stroke="#e4f4ff" stroke-width="1.1"/>
<path d="M96.6 17.6a2.5 2.5 0 0 1 -0.4 -4.9a2.6 2.6 0 0 1 3.3 -1.9a3.1 3.1 0 0 1 5.6 0.3a2.7 2.7 0 0 1 4.6 2.2a2.3 2.3 0 0 1 -1 4.3Z" fill="url(#gcl)" stroke="#4a68a4" stroke-width="0.9"/>
<circle cx="130" cy="9.9" r="8" fill="#f3f3f9"/>
<path d="M130 9.9V17.9A8 8 0 0 0 134.6 3.4Z" fill="url(#gsec)" opacity="0.9"/>
<g fill="none" stroke-width="1"><circle cx="130" cy="9.9" r="7.6" stroke="#5a80d8" opacity="0.7"/><circle cx="130" cy="9.9" r="4.7" stroke="#6a8ce0" opacity="0.7"/></g>
<circle cx="129.9" cy="9.7" r="1.9" fill="#2a58cc"/>
<path d="M130.4 10V17.8" stroke="#1fa01f" stroke-width="1.3"/>
<path d="M149.3 9.4L164.6 8.6L158.6 17.9H156.6Z" fill="url(#gy)" stroke="#d4a414" stroke-width="0.6"/>
<path d="M149 6.2C149 4.6 151.6 5 153 5.8C153.6 2.2 155 2.2 157 2.2C159 2.2 160.4 2.2 160.9 5.6C162.6 4.6 165.4 4.2 165.2 5.8C165 8 160.6 9.2 156.8 9.2C153 9.2 149 8.2 149 6.2Z" fill="#58ace4" stroke="#2484b4" stroke-width="0.7"/>
<path d="M153.4 6C155 7 159 7 160.7 5.8" stroke="#2484b4" stroke-width="0.6" fill="none"/>
<circle cx="161.4" cy="13.7" r="4.1" fill="url(#gred)" stroke="#b01808" stroke-width="0.5"/>
<rect x="159.9" y="12.1" width="3.1" height="3.1" fill="#fff"/>
<text x="170.3" y="13" font-family='"Liberation Sans", "Noto Sans CJK SC", sans-serif' font-size="12" fill="#000" textLength="48" lengthAdjust="spacingAndGlyphs">自动交易</text>
<rect x="225" y="0" width="1" height="21" fill="#a0a0a0" shape-rendering="crispEdges"/>
<rect x="226" y="0" width="1" height="21" fill="#fff"/>
<rect x="229" y="1" width="3" height="1" fill="#9a9a9a" shape-rendering="crispEdges"/>
<rect x="229" y="3" width="3" height="1" fill="#9a9a9a" shape-rendering="crispEdges"/>
<rect x="229" y="5" width="3" height="1" fill="#9a9a9a" shape-rendering="crispEdges"/>
<rect x="229" y="7" width="3" height="1" fill="#9a9a9a" shape-rendering="crispEdges"/>
<rect x="229" y="9" width="3" height="1" fill="#9a9a9a" shape-rendering="crispEdges"/>
<rect x="229" y="11" width="3" height="1" fill="#9a9a9a" shape-rendering="crispEdges"/>
<rect x="229" y="13" width="3" height="1" fill="#9a9a9a" shape-rendering="crispEdges"/>
<rect x="229" y="15" width="3" height="1" fill="#9a9a9a" shape-rendering="crispEdges"/>
<rect x="229" y="17" width="3" height="1" fill="#9a9a9a" shape-rendering="crispEdges"/>
<rect x="229" y="19" width="3" height="1" fill="#9a9a9a" shape-rendering="crispEdges"/>
<g stroke="#555" stroke-width="1.1" fill="none"><path d="M243.5 4.3V17.6M241.2 15.4H254.5"/><path d="M241.9 6L243.5 4.3L245.1 6M252.9 13.8L254.5 15.4L252.9 17"/></g>
<path d="M249.7 5.2V13.4M247.2 12.6H249.7M249.7 6.4H252" stroke="#1a8a1a" stroke-width="1.2" fill="none"/>
<rect x="263" y="0" width="1" height="20" fill="#a0a0a0" shape-rendering="crispEdges"/>
<rect x="264" y="0" width="24" height="20" fill="url(#chk)" shape-rendering="crispEdges"/>
<g stroke="#555" stroke-width="1.1" fill="none"><path d="M271.4 4.3V17.6M269.09999999999997 15.4H282.4"/><path d="M269.79999999999995 6L271.4 4.3L273.0 6M280.79999999999995 13.8L282.4 15.4L280.79999999999995 17"/></g>
<path d="M277.4 2.2V13.8" stroke="#128a12" stroke-width="1.1"/>
<rect x="275.2" y="4.4" width="4.5" height="7.4" fill="url(#gg)" stroke="#128a12" stroke-width="0.8"/>
<g stroke="#555" stroke-width="1.1" fill="none"><path d="M299.5 4.3V17.6M297.2 15.4H310.5"/><path d="M297.9 6L299.5 4.3L301.1 6M308.9 13.8L310.5 15.4L308.9 17"/></g>
<path d="M298.2 12.8C301 10.5 302.5 7.2 304.2 7.2C306 7.2 307.5 10.5 309.8 11" stroke="#2a9a2a" stroke-width="1.1" fill="none"/>
<rect x="320" y="0" width="1" height="20" fill="#a0a0a0" shape-rendering="crispEdges"/>
<path d="M338.6 11.6L344.3 17.3" stroke="#9a7410" stroke-width="3.4" stroke-linecap="round"/>
<path d="M338.9 11.9L344 17" stroke="#f0c838" stroke-width="1.8" stroke-linecap="round"/>
<circle cx="335" cy="7.9" r="5.6" fill="url(#glens)" stroke="#3a7cd0" stroke-width="1.2"/>
<path d="M332 7.9H338" stroke="#3a80b0" stroke-width="1.6"/>
<path d="M335 4.9V10.9" stroke="#3a80b0" stroke-width="1.6"/>
<path d="M366.6 11.6L372.3 17.3" stroke="#9a7410" stroke-width="3.4" stroke-linecap="round"/>
<path d="M366.9 11.9L372 17" stroke="#f0c838" stroke-width="1.8" stroke-linecap="round"/>
<circle cx="363" cy="7.9" r="5.6" fill="url(#glens)" stroke="#3a7cd0" stroke-width="1.2"/>
<path d="M360 7.9H366" stroke="#3a80b0" stroke-width="1.6"/>
<rect x="385" y="2.1" width="7.8" height="7.6" fill="#2a9a1a"/>
<rect x="386.2" y="5.1" width="5.4" height="3.4" fill="#eef4ff"/>
<rect x="387.2" y="6.300000000000001" width="3.4" height="0.9" fill="#a8d8a0"/>
<rect x="385.8" y="3.0" width="1" height="1" fill="#eef4ff" opacity="0.8"/>
<rect x="393" y="2.1" width="7.8" height="7.6" fill="#1a4ad0"/>
<rect x="394.2" y="5.1" width="5.4" height="3.4" fill="#eef4ff"/>
<rect x="395.2" y="6.300000000000001" width="3.4" height="0.9" fill="#98b0f0"/>
<rect x="393.8" y="3.0" width="1" height="1" fill="#eef4ff" opacity="0.8"/>
<rect x="385" y="9.9" width="7.8" height="7.6" fill="#1a4ad0"/>
<rect x="386.2" y="12.9" width="5.4" height="3.4" fill="#eef4ff"/>
<rect x="387.2" y="14.100000000000001" width="3.4" height="0.9" fill="#98b0f0"/>
<rect x="385.8" y="10.8" width="1" height="1" fill="#eef4ff" opacity="0.8"/>
<rect x="393" y="9.9" width="7.8" height="7.6" fill="#2a9a1a"/>
<rect x="394.2" y="12.9" width="5.4" height="3.4" fill="#eef4ff"/>
<rect x="395.2" y="14.100000000000001" width="3.4" height="0.9" fill="#a8d8a0"/>
<rect x="393.8" y="10.8" width="1" height="1" fill="#eef4ff" opacity="0.8"/>
<rect x="410" y="0" width="1" height="20" fill="#8a8a8a" shape-rendering="crispEdges"/>
<rect x="415" y="0" width="1" height="20" fill="#a0a0a0" shape-rendering="crispEdges"/>
<rect x="416" y="0" width="24" height="20" fill="url(#chk)" shape-rendering="crispEdges"/>
<g stroke="#555" stroke-width="1.1" fill="none"><path d="M423.4 4.3V17.6M421.09999999999997 15.4H434.4"/><path d="M421.79999999999995 6L423.4 4.3L425.0 6M432.79999999999995 13.8L434.4 15.4L432.79999999999995 17"/></g>
<path d="M428.4 6.2L432 9.6L428.4 12.9Z" fill="#5ad05a" stroke="#128a12" stroke-width="0.8"/>
<rect x="443" y="0" width="1" height="20" fill="#a0a0a0" shape-rendering="crispEdges"/>
<rect x="444" y="0" width="24" height="20" fill="url(#chk)" shape-rendering="crispEdges"/>
<g stroke="#555" stroke-width="1.1" fill="none"><path d="M451.5 4.3V17.6M449.2 15.4H462.5"/><path d="M449.9 6L451.5 4.3L453.1 6M460.9 13.8L462.5 15.4L460.9 17"/></g>
<path d="M457.4 4.3V13.6" stroke="#1a6ab0" stroke-width="1.2"/>
<path d="M458.4 9.3L461.4 7.2V11.4Z" fill="#e04a10"/><path d="M460 9.3H463.2" stroke="#e04a10" stroke-width="1"/>
<rect x="472" y="0" width="1" height="20" fill="#a0a0a0" shape-rendering="crispEdges"/>
<path d="M482.5 2.6H490.8L493.6 5.4V15.3H482.5Z" fill="#fff" stroke="#8a8a8a" stroke-width="0.8"/>
<path d="M490.8 2.6V5.4H493.6" fill="#e0e0e0" stroke="#8a8a8a" stroke-width="0.6"/>
<path d="M486.6 6V12M485.4 7.5H486.6M486.6 10.5H487.8" stroke="#5a4a2a" stroke-width="0.9"/>
<path d="M490.3 8.5H493.7V12.200000000000001H497.4V15.6H493.7V19.3H490.3V15.6H486.6V12.200000000000001H490.3Z" fill="url(#gg)" stroke="#0c8c0c" stroke-width="0.8"/>
<polygon points="503.7,9 509.3,9 506.5,12" fill="#000"/>
<circle cx="528.1" cy="9.7" r="7.8" fill="url(#gclk)"/>
<circle cx="528.1" cy="9.7" r="5.5" fill="#f6f9ff"/>
<g stroke="#8a96a8" stroke-width="0.7"><path d="M533.00 9.70L532.20 9.70"/><path d="M532.34 12.15L531.65 11.75"/><path d="M530.55 13.94L530.15 13.25"/><path d="M528.10 14.60L528.10 13.80"/><path d="M525.65 13.94L526.05 13.25"/><path d="M523.86 12.15L524.55 11.75"/><path d="M523.20 9.70L524.00 9.70"/><path d="M523.86 7.25L524.55 7.65"/><path d="M525.65 5.46L526.05 6.15"/><path d="M528.10 4.80L528.10 5.60"/><path d="M530.55 5.46L530.15 6.15"/><path d="M532.34 7.25L531.65 7.65"/></g>
<path d="M528.1 6V9.7L530.6 10.8" stroke="#222" stroke-width="1" fill="none"/>
<polygon points="542.9,9 548.5,9 545.6999999999999,12" fill="#000"/>
<rect x="559.3" y="3.2" width="15.6" height="13.4" fill="#fff" stroke="#3a7ac8" stroke-width="1.1"/>
<rect x="559.8" y="3.6" width="14.6" height="2" fill="#4a94e0"/>
<path d="M559.8 10.8H574.4" stroke="#3a7ac8" stroke-width="0.8"/>
<path d="M561.4 9.3H563.6L565 8.2H567.4L568.6 8.9H570.4L571.4 7.6H573" stroke="#b02a10" stroke-width="1.1" fill="none"/>
<path d="M562 14.6H564L565.2 13.8H567L569.6 12.4L572.6 14.6" stroke="#1a9a1a" stroke-width="1.1" fill="none"/>
<polygon points="581.9,9 587.5,9 584.6999999999999,12" fill="#000"/>
<rect x="593" y="0" width="1" height="22" fill="#8a8a8a" shape-rendering="crispEdges"/>
<rect x="597" y="1" width="3" height="1" fill="#9a9a9a" shape-rendering="crispEdges"/>
<rect x="597" y="3" width="3" height="1" fill="#9a9a9a" shape-rendering="crispEdges"/>
<rect x="597" y="5" width="3" height="1" fill="#9a9a9a" shape-rendering="crispEdges"/>
<rect x="597" y="7" width="3" height="1" fill="#9a9a9a" shape-rendering="crispEdges"/>
<rect x="597" y="9" width="3" height="1" fill="#9a9a9a" shape-rendering="crispEdges"/>
<rect x="597" y="11" width="3" height="1" fill="#9a9a9a" shape-rendering="crispEdges"/>
<rect x="597" y="13" width="3" height="1" fill="#9a9a9a" shape-rendering="crispEdges"/>
<rect x="597" y="15" width="3" height="1" fill="#9a9a9a" shape-rendering="crispEdges"/>
<rect x="597" y="17" width="3" height="1" fill="#9a9a9a" shape-rendering="crispEdges"/>
<rect x="597" y="19" width="3" height="1" fill="#9a9a9a" shape-rendering="crispEdges"/>
<rect x="603" y="0" width="1" height="20" fill="#a0a0a0" shape-rendering="crispEdges"/>
<rect x="604" y="0" width="24" height="20" fill="url(#chk)" shape-rendering="crispEdges"/>
<path d="M610.9 3.2V14.2L613.6 11.8L615.8 16.9L617.6 16.1L615.4 11.1L619 10.8Z" fill="#555"/>
<path d="M636 10.4H642M645 10.4H651M643.4 3V17.8" stroke="#555" stroke-width="1.1" fill="none"/>
<rect x="660" y="0" width="1" height="20" fill="#a0a0a0" shape-rendering="crispEdges"/>
<path d="M677.5 3.9V16.9" stroke="#555" stroke-width="1.2"/>
<path d="M700 10.4H712" stroke="#555" stroke-width="1.2"/>
<path d="M727.6 16.9L739.9 5" stroke="#555" stroke-width="1.2"/>
<g stroke="#4a4a4a" fill="none"><path d="M753.6 11.6L761.7 4M758.9 16.9L768.2 8.2" stroke-width="0.9" stroke-dasharray="1.2,0.6"/><path d="M754.7 15.6L756.5 9.6L759 13.2L759.9 8.1L762.5 12.3L762.7 6.5L765.9 9L765.4 2.2" stroke-width="1.4" stroke-linejoin="round"/></g>
<text x="764.6" y="18.7" font-family='"Liberation Sans", sans-serif' font-size="7" font-weight="bold" fill="#444">E</text>
<path d="M783 3.2H796" stroke="#555" stroke-width="1.1" stroke-dasharray="1,1"/>
<path d="M783 6.4H796" stroke="#555" stroke-width="1.1" stroke-dasharray="1,1"/>
<path d="M783 10.4H796" stroke="#555" stroke-width="1.1" stroke-dasharray="1,1"/>
<path d="M783 14.3H792" stroke="#555" stroke-width="1.1" stroke-dasharray="1,1"/>
<text x="792.8" y="18.7" font-family='"Liberation Sans", sans-serif' font-size="7" font-weight="bold" fill="#444">F</text>
<text x="817.6" y="14.8" font-family='"Liberation Sans", sans-serif' font-size="12.5" fill="#505050" text-anchor="middle" stroke="#505050" stroke-width="0.55">A</text>
<rect x="840.0" y="4.2" width="1.1" height="1.1" fill="#505050"/><rect x="840.0" y="15.7" width="1.1" height="1.1" fill="#505050"/>
<rect x="840" y="4.2" width="1.1" height="1.1" fill="#505050"/><rect x="851" y="4.2" width="1.1" height="1.1" fill="#505050"/>
<rect x="842.2" y="4.2" width="1.1" height="1.1" fill="#505050"/><rect x="842.2" y="15.7" width="1.1" height="1.1" fill="#505050"/>
<rect x="840" y="6.5" width="1.1" height="1.1" fill="#505050"/><rect x="851" y="6.5" width="1.1" height="1.1" fill="#505050"/>
<rect x="844.4" y="4.2" width="1.1" height="1.1" fill="#505050"/><rect x="844.4" y="15.7" width="1.1" height="1.1" fill="#505050"/>
<rect x="840" y="8.8" width="1.1" height="1.1" fill="#505050"/><rect x="851" y="8.8" width="1.1" height="1.1" fill="#505050"/>
<rect x="846.6" y="4.2" width="1.1" height="1.1" fill="#505050"/><rect x="846.6" y="15.7" width="1.1" height="1.1" fill="#505050"/>
<rect x="840" y="11.1" width="1.1" height="1.1" fill="#505050"/><rect x="851" y="11.1" width="1.1" height="1.1" fill="#505050"/>
<rect x="848.8" y="4.2" width="1.1" height="1.1" fill="#505050"/><rect x="848.8" y="15.7" width="1.1" height="1.1" fill="#505050"/>
<rect x="840" y="13.4" width="1.1" height="1.1" fill="#505050"/><rect x="851" y="13.4" width="1.1" height="1.1" fill="#505050"/>
<rect x="851.0" y="4.2" width="1.1" height="1.1" fill="#505050"/><rect x="851.0" y="15.7" width="1.1" height="1.1" fill="#505050"/>
<rect x="840" y="15.7" width="1.1" height="1.1" fill="#505050"/><rect x="851" y="15.7" width="1.1" height="1.1" fill="#505050"/>
<path d="M842.2 7.2H849.9M846.1 7.2V14.9" stroke="#505050" stroke-width="1.6" fill="none"/>
<path d="M839 3.6L841.4 4.4" stroke="#505050" stroke-width="1.2"/>
<path d="M870.4 3.7L874.2 7.5L872.6 8.9H868.4L866.8 7.5Z" fill="#505050"/>
<path d="M877.5 17.1L873.9 13.4L875.6 11.8H879.6L881.3 13.4Z" fill="#505050"/>
<path d="M869 11.4L871.6 13.7L876 8.2" stroke="#505050" stroke-width="1.3" fill="none"/>
<polygon points="887.7,9 893.3000000000001,9 890.5,12" fill="#000"/>
<rect x="899" y="0" width="1" height="22" fill="#8a8a8a" shape-rendering="crispEdges"/>
<rect x="903" y="1" width="3" height="1" fill="#9a9a9a" shape-rendering="crispEdges"/>
<rect x="903" y="3" width="3" height="1" fill="#9a9a9a" shape-rendering="crispEdges"/>
<rect x="903" y="5" width="3" height="1" fill="#9a9a9a" shape-rendering="crispEdges"/>
<rect x="903" y="7" width="3" height="1" fill="#9a9a9a" shape-rendering="crispEdges"/>
<rect x="903" y="9" width="3" height="1" fill="#9a9a9a" shape-rendering="crispEdges"/>
<rect x="903" y="11" width="3" height="1" fill="#9a9a9a" shape-rendering="crispEdges"/>
<rect x="903" y="13" width="3" height="1" fill="#9a9a9a" shape-rendering="crispEdges"/>
<rect x="903" y="15" width="3" height="1" fill="#9a9a9a" shape-rendering="crispEdges"/>
<rect x="903" y="17" width="3" height="1" fill="#9a9a9a" shape-rendering="crispEdges"/>
<rect x="903" y="19" width="3" height="1" fill="#9a9a9a" shape-rendering="crispEdges"/>
<text x="914.7" y="14" font-family='"Liberation Sans", sans-serif' font-size="10" fill="#3a3a3a" textLength="12.5" lengthAdjust="spacingAndGlyphs">M1</text>
<text x="942.8" y="14" font-family='"Liberation Sans", sans-serif' font-size="10" fill="#3a3a3a" textLength="12.5" lengthAdjust="spacingAndGlyphs">M5</text>
<text x="968.7" y="14" font-family='"Liberation Sans", sans-serif' font-size="10" fill="#3a3a3a" textLength="17.5" lengthAdjust="spacingAndGlyphs">M15</text>
<text x="996.6" y="14" font-family='"Liberation Sans", sans-serif' font-size="10" fill="#3a3a3a" textLength="17.9" lengthAdjust="spacingAndGlyphs">M30</text>
<text x="1027.4" y="14" font-family='"Liberation Sans", sans-serif' font-size="10" fill="#3a3a3a" textLength="11.6" lengthAdjust="spacingAndGlyphs">H1</text>
<rect x="1049" y="0" width="1" height="20" fill="#a0a0a0" shape-rendering="crispEdges"/>
<rect x="1050" y="0" width="24" height="20" fill="url(#chk)" shape-rendering="crispEdges"/>
<text x="1054.6" y="14" font-family='"Liberation Sans", sans-serif' font-size="10" fill="#3a3a3a" textLength="12.4" lengthAdjust="spacingAndGlyphs">H4</text>
<text x="1083.5" y="14" font-family='"Liberation Sans", sans-serif' font-size="10" fill="#3a3a3a" textLength="11.7" lengthAdjust="spacingAndGlyphs">D1</text>
<text x="1111" y="14" font-family='"Liberation Sans", sans-serif' font-size="10" fill="#3a3a3a" textLength="14.3" lengthAdjust="spacingAndGlyphs">W1</text>
<text x="1137.7" y="14" font-family='"Liberation Sans", sans-serif' font-size="10" fill="#3a3a3a" textLength="14.8" lengthAdjust="spacingAndGlyphs">MN</text>
<rect x="1160" y="0" width="1" height="22" fill="#a0a0a0" shape-rendering="crispEdges"/>
<path d="M1627.4 10.6L1622.6 15.2" stroke="#1a4ac8" stroke-width="2.2" stroke-linecap="round"/>
<circle cx="1630.6" cy="7.4" r="3.9" fill="#f8faff" stroke="#2a5ad8" stroke-width="1.2"/>
<path d="M1659 10.6A6.4 4.5 0 1 1 1667 10.8L1667.4 13.2L1664.4 11.2A6.4 4.5 0 0 1 1659 10.6Z" fill="#f4f4f8" stroke="#8a8a8a" stroke-width="0.9"/>
<path d="M1652.4 14.6A5 3.7 0 1 1 1656 14.6L1652 16.6Z" fill="#f4f4f8" stroke="#8a8a8a" stroke-width="0.9"/></svg>
</body></html>
